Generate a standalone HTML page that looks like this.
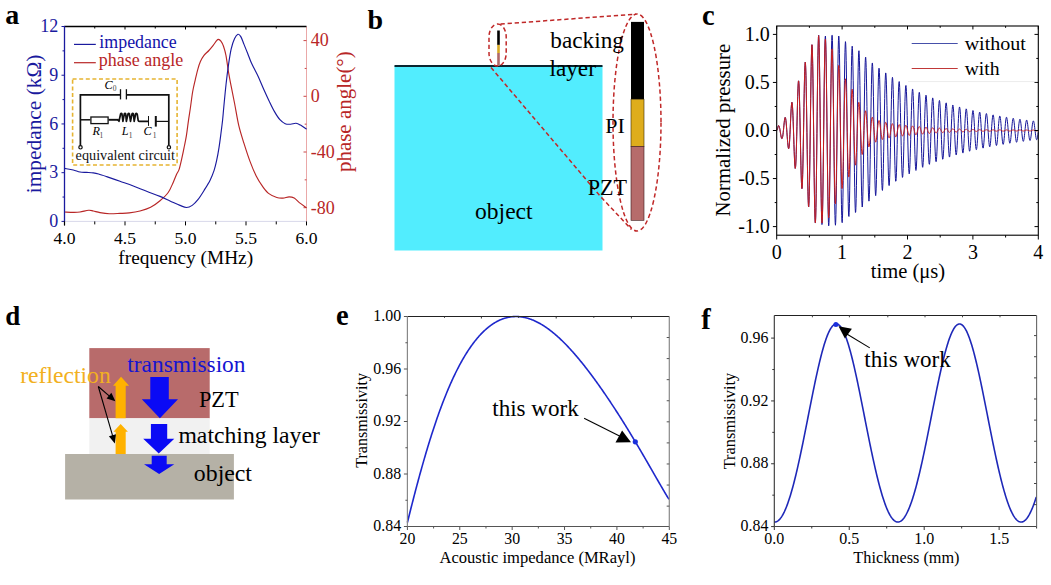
<!DOCTYPE html>
<html><head><meta charset="utf-8"><style>
html,body{margin:0;padding:0;background:#fff;overflow:hidden;}
svg{display:block;font-family:"Liberation Serif", serif;}
</style></head><body>
<svg width="1051" height="585" viewBox="0 0 1051 585">
<rect width="1051" height="585" fill="#fff"/>
<text transform="translate(5.30 23.90)" font-size="28.00" fill="#000" text-anchor="start" font-weight="bold" >a</text>
<line x1="64.50" y1="221.40" x2="306.50" y2="221.40" stroke="#d8d8ea" stroke-width="1" />
<line x1="306.50" y1="26.50" x2="306.50" y2="221.40" stroke="#eaa8a8" stroke-width="1" />
<line x1="61.50" y1="221.40" x2="64.50" y2="221.40" stroke="#1a1a9e" stroke-width="1" />
<line x1="62.50" y1="197.04" x2="64.50" y2="197.04" stroke="#1a1a9e" stroke-width="1" />
<line x1="61.50" y1="172.68" x2="64.50" y2="172.68" stroke="#1a1a9e" stroke-width="1" />
<line x1="62.50" y1="148.31" x2="64.50" y2="148.31" stroke="#1a1a9e" stroke-width="1" />
<line x1="61.50" y1="123.95" x2="64.50" y2="123.95" stroke="#1a1a9e" stroke-width="1" />
<line x1="62.50" y1="99.59" x2="64.50" y2="99.59" stroke="#1a1a9e" stroke-width="1" />
<line x1="61.50" y1="75.22" x2="64.50" y2="75.22" stroke="#1a1a9e" stroke-width="1" />
<line x1="62.50" y1="50.86" x2="64.50" y2="50.86" stroke="#1a1a9e" stroke-width="1" />
<line x1="61.50" y1="26.50" x2="64.50" y2="26.50" stroke="#1a1a9e" stroke-width="1" />
<text transform="translate(58.30 227.00)" font-size="18.00" fill="#1a1a9e" text-anchor="end" >0</text>
<text transform="translate(58.30 178.28)" font-size="18.00" fill="#1a1a9e" text-anchor="end" >3</text>
<text transform="translate(58.30 129.55)" font-size="18.00" fill="#1a1a9e" text-anchor="end" >6</text>
<text transform="translate(58.30 80.82)" font-size="18.00" fill="#1a1a9e" text-anchor="end" >9</text>
<text transform="translate(58.30 32.10)" font-size="18.00" fill="#1a1a9e" text-anchor="end" >12</text>
<line x1="303.50" y1="40.60" x2="306.50" y2="40.60" stroke="#c84848" stroke-width="1" />
<line x1="304.70" y1="68.45" x2="306.50" y2="68.45" stroke="#c84848" stroke-width="1" />
<line x1="303.50" y1="96.30" x2="306.50" y2="96.30" stroke="#c84848" stroke-width="1" />
<line x1="304.70" y1="124.15" x2="306.50" y2="124.15" stroke="#c84848" stroke-width="1" />
<line x1="303.50" y1="152.00" x2="306.50" y2="152.00" stroke="#c84848" stroke-width="1" />
<line x1="304.70" y1="179.85" x2="306.50" y2="179.85" stroke="#c84848" stroke-width="1" />
<line x1="303.50" y1="207.70" x2="306.50" y2="207.70" stroke="#c84848" stroke-width="1" />
<text transform="translate(310.80 46.40)" font-size="18.00" fill="#b82626" text-anchor="start" >40</text>
<text transform="translate(310.80 102.10)" font-size="18.00" fill="#b82626" text-anchor="start" >0</text>
<text transform="translate(310.80 157.80)" font-size="18.00" fill="#b82626" text-anchor="start" >-40</text>
<text transform="translate(310.80 213.50)" font-size="18.00" fill="#b82626" text-anchor="start" >-80</text>
<line x1="64.50" y1="221.40" x2="64.50" y2="225.40" stroke="#000" stroke-width="1" />
<line x1="94.75" y1="26.50" x2="94.75" y2="28.50" stroke="#000" stroke-width="1" />
<line x1="94.75" y1="221.40" x2="94.75" y2="224.40" stroke="#000" stroke-width="1" />
<line x1="125.00" y1="26.50" x2="125.00" y2="29.50" stroke="#000" stroke-width="1" />
<line x1="125.00" y1="221.40" x2="125.00" y2="225.40" stroke="#000" stroke-width="1" />
<line x1="155.25" y1="26.50" x2="155.25" y2="28.50" stroke="#000" stroke-width="1" />
<line x1="155.25" y1="221.40" x2="155.25" y2="224.40" stroke="#000" stroke-width="1" />
<line x1="185.50" y1="26.50" x2="185.50" y2="29.50" stroke="#000" stroke-width="1" />
<line x1="185.50" y1="221.40" x2="185.50" y2="225.40" stroke="#000" stroke-width="1" />
<line x1="215.75" y1="26.50" x2="215.75" y2="28.50" stroke="#000" stroke-width="1" />
<line x1="215.75" y1="221.40" x2="215.75" y2="224.40" stroke="#000" stroke-width="1" />
<line x1="246.00" y1="26.50" x2="246.00" y2="29.50" stroke="#000" stroke-width="1" />
<line x1="246.00" y1="221.40" x2="246.00" y2="225.40" stroke="#000" stroke-width="1" />
<line x1="276.25" y1="26.50" x2="276.25" y2="28.50" stroke="#000" stroke-width="1" />
<line x1="276.25" y1="221.40" x2="276.25" y2="224.40" stroke="#000" stroke-width="1" />
<line x1="306.50" y1="221.40" x2="306.50" y2="225.40" stroke="#000" stroke-width="1" />
<text transform="translate(64.50 243.60)" font-size="17.60" fill="#000" text-anchor="middle" >4.0</text>
<text transform="translate(125.00 243.60)" font-size="17.60" fill="#000" text-anchor="middle" >4.5</text>
<text transform="translate(185.50 243.60)" font-size="17.60" fill="#000" text-anchor="middle" >5.0</text>
<text transform="translate(246.00 243.60)" font-size="17.60" fill="#000" text-anchor="middle" >5.5</text>
<text transform="translate(306.50 243.60)" font-size="17.60" fill="#000" text-anchor="middle" >6.0</text>
<text transform="translate(118.35 263.50)" font-size="19.35" fill="#000" text-anchor="start" >frequency (MHz)</text>
<text transform="translate(40.60 193.20) rotate(-90)" font-size="21.37" fill="#1a1a9e" text-anchor="start" >impedance (k&#937;)</text>
<text transform="translate(351.00 172.09) rotate(-90)" font-size="20.99" fill="#b82626" text-anchor="start" >phase angle(&#176;)</text>
<path d="M64.60,212.00 C66.05,212.05 70.73,212.30 73.30,212.30 C75.87,212.30 77.45,212.33 80.00,212.00 C82.55,211.67 86.38,210.47 88.60,210.30 C90.82,210.13 91.40,210.62 93.30,211.00 C95.20,211.38 97.33,212.15 100.00,212.60 C102.67,213.05 105.97,213.57 109.30,213.70 C112.63,213.83 116.67,213.53 120.00,213.40 C123.33,213.27 125.97,213.30 129.30,212.90 C132.63,212.50 136.45,211.93 140.00,211.00 C143.55,210.07 147.27,209.02 150.60,207.30 C153.93,205.58 157.07,203.17 160.00,200.70 C162.93,198.23 165.98,195.58 168.20,192.50 C170.42,189.42 171.92,185.20 173.30,182.20 C174.68,179.20 175.52,176.68 176.50,174.50 C177.48,172.32 178.23,172.15 179.20,169.10 C180.17,166.05 181.43,160.05 182.30,156.20 C183.17,152.35 183.72,149.42 184.40,146.00 C185.08,142.58 185.72,139.98 186.40,135.70 C187.08,131.42 187.85,124.83 188.50,120.30 C189.15,115.77 189.60,113.30 190.30,108.50 C191.00,103.70 191.87,96.32 192.70,91.50 C193.53,86.68 194.45,83.30 195.30,79.60 C196.15,75.90 196.95,72.30 197.80,69.30 C198.65,66.30 199.40,63.88 200.40,61.60 C201.40,59.32 202.38,57.45 203.80,55.60 C205.22,53.75 207.33,52.20 208.90,50.50 C210.47,48.80 211.92,47.05 213.20,45.40 C214.48,43.75 215.75,41.60 216.60,40.60 C217.45,39.60 217.58,39.32 218.30,39.40 C219.02,39.48 220.03,39.97 220.90,41.10 C221.77,42.23 222.65,43.78 223.50,46.20 C224.35,48.62 225.15,51.18 226.00,55.60 C226.85,60.02 227.73,67.57 228.60,72.70 C229.47,77.83 230.20,81.27 231.20,86.40 C232.20,91.53 233.33,96.95 234.60,103.50 C235.87,110.05 237.25,119.10 238.80,125.70 C240.35,132.30 242.02,137.12 243.90,143.10 C245.78,149.08 248.05,156.12 250.10,161.60 C252.15,167.08 254.15,171.90 256.20,176.00 C258.25,180.10 260.35,183.30 262.40,186.20 C264.45,189.10 266.10,191.52 268.50,193.40 C270.90,195.28 274.40,196.72 276.80,197.50 C279.20,198.28 280.85,198.20 282.90,198.10 C284.95,198.00 287.22,196.90 289.10,196.90 C290.98,196.90 292.50,197.15 294.20,198.10 C295.90,199.05 297.25,200.98 299.30,202.60 C301.35,204.22 305.30,206.93 306.50,207.80" fill="none" stroke="#b82626" stroke-width="1.15"/>
<path d="M64.60,168.40 C66.05,168.67 70.73,169.40 73.30,170.00 C75.87,170.60 77.78,171.60 80.00,172.00 C82.22,172.40 84.38,172.25 86.60,172.40 C88.82,172.55 91.30,172.63 93.30,172.90 C95.30,173.17 96.38,173.38 98.60,174.00 C100.82,174.62 103.03,175.38 106.60,176.60 C110.17,177.82 115.55,179.73 120.00,181.30 C124.45,182.87 128.87,184.33 133.30,186.00 C137.73,187.67 142.15,189.57 146.60,191.30 C151.05,193.03 156.10,194.80 160.00,196.40 C163.90,198.00 166.67,199.40 170.00,200.90 C173.33,202.40 177.25,204.30 180.00,205.40 C182.75,206.50 184.47,207.50 186.50,207.50 C188.53,207.50 190.30,206.70 192.20,205.40 C194.10,204.10 195.87,202.28 197.90,199.70 C199.93,197.12 202.37,193.15 204.40,189.90 C206.43,186.65 208.48,183.45 210.10,180.20 C211.72,176.95 213.02,173.65 214.10,170.40 C215.18,167.15 215.78,164.50 216.60,160.70 C217.42,156.90 218.27,152.22 219.00,147.60 C219.73,142.98 220.40,137.60 221.00,133.00 C221.60,128.40 222.13,124.33 222.60,120.00 C223.07,115.67 223.23,112.88 223.80,107.00 C224.37,101.12 225.20,91.83 226.00,84.70 C226.80,77.57 227.73,70.18 228.60,64.20 C229.47,58.22 230.20,53.08 231.20,48.80 C232.20,44.52 233.47,40.92 234.60,38.50 C235.73,36.08 236.97,34.62 238.00,34.30 C239.03,33.98 239.80,34.92 240.80,36.60 C241.80,38.28 242.87,41.62 244.00,44.40 C245.13,47.18 246.42,50.32 247.60,53.30 C248.78,56.28 249.92,59.60 251.10,62.30 C252.28,65.00 253.50,67.10 254.70,69.50 C255.90,71.90 256.80,73.42 258.30,76.70 C259.80,79.98 261.90,85.17 263.70,89.20 C265.50,93.23 267.30,97.17 269.10,100.90 C270.90,104.63 272.70,108.47 274.50,111.60 C276.30,114.73 278.12,117.68 279.90,119.70 C281.68,121.72 283.42,122.95 285.20,123.70 C286.98,124.45 288.80,124.27 290.60,124.20 C292.40,124.13 294.35,123.15 296.00,123.30 C297.65,123.45 298.75,124.12 300.50,125.10 C302.25,126.08 305.50,128.52 306.50,129.20" fill="none" stroke="#1a1a9e" stroke-width="1.15"/>
<line x1="64.50" y1="26.50" x2="306.50" y2="26.50" stroke="#000" stroke-width="1.3" />
<line x1="64.50" y1="25.90" x2="64.50" y2="221.40" stroke="#1a1a9e" stroke-width="1.3" />
<line x1="64.50" y1="221.40" x2="64.50" y2="225.40" stroke="#000" stroke-width="1.2" />
<line x1="74.00" y1="44.40" x2="95.80" y2="44.40" stroke="#1a1a9e" stroke-width="1.2" />
<text transform="translate(99.37 47.60)" font-size="17.87" fill="#1212aa" text-anchor="start" >impedance</text>
<line x1="74.00" y1="62.70" x2="95.80" y2="62.70" stroke="#b82626" stroke-width="1.2" />
<text transform="translate(98.76 66.30)" font-size="17.99" fill="#b82626" text-anchor="start" >phase angle</text>
<rect x="72.6" y="79.0" width="104.5" height="86.0" fill="none" stroke="#e6b432" stroke-width="1.6" stroke-dasharray="4 2.6"/>
<path d="M80.4,146 L80.4,94.9 L120.5,94.9 M126.4,94.9 L168.8,94.9 L168.8,145.5" fill="none" stroke="#111" stroke-width="1.7"/>
<line x1="120.50" y1="89.20" x2="120.50" y2="99.40" stroke="#111" stroke-width="1.3" />
<line x1="126.40" y1="89.20" x2="126.40" y2="99.40" stroke="#111" stroke-width="1.3" />
<circle cx="80.5" cy="147.3" r="1.7" fill="#fff" stroke="#111" stroke-width="1.2"/>
<circle cx="168.9" cy="147.3" r="1.7" fill="#fff" stroke="#111" stroke-width="1.2"/>
<line x1="80.40" y1="119.80" x2="90.30" y2="119.80" stroke="#111" stroke-width="1.5" />
<rect x="90.9" y="117.0" width="17.2" height="6.6" fill="none" stroke="#111" stroke-width="1.3"/>
<line x1="108.60" y1="119.80" x2="118.60" y2="119.80" stroke="#111" stroke-width="1.9" />
<path d="M117.8,119.8 L119.0,121.3 L120.6,114.0 Q121.3,112.6 122.0,114.0 L122.9,121.3 L124.3,114.0 Q125.0,112.6 125.7,114.0 L126.4,121.3 L128.0,114.0 Q128.7,112.6 129.4,114.0 L130.5,121.3 L132.0,114.0 Q132.7,112.6 133.4,114.0 L134.2,121.3 L135.6,114.0 Q136.4,112.6 137.2,114.2 L138.2,120.6 Q138.6,121.4 139.6,121.4 L148.5,121.4" fill="none" stroke="#111" stroke-width="1.7" stroke-linejoin="round"/>
<line x1="148.50" y1="116.00" x2="148.50" y2="125.90" stroke="#111" stroke-width="1.0" />
<line x1="155.80" y1="116.00" x2="155.80" y2="126.60" stroke="#111" stroke-width="2.0" />
<line x1="155.80" y1="121.40" x2="168.80" y2="121.40" stroke="#111" stroke-width="1.2" />
<text transform="translate(104.60 88.50)" font-size="12.20" fill="#000" text-anchor="start" font-style="italic" >C</text>
<text transform="translate(112.70 91.30)" font-size="7.50" fill="#444" text-anchor="start" >0</text>
<text transform="translate(92.40 135.40)" font-size="12.20" fill="#000" text-anchor="start" font-style="italic" >R</text>
<text transform="translate(99.40 138.40)" font-size="7.50" fill="#444" text-anchor="start" >1</text>
<text transform="translate(121.70 135.40)" font-size="12.20" fill="#000" text-anchor="start" font-style="italic" >L</text>
<text transform="translate(128.70 138.40)" font-size="7.50" fill="#444" text-anchor="start" >1</text>
<text transform="translate(143.40 135.40)" font-size="12.20" fill="#000" text-anchor="start" font-style="italic" >C</text>
<text transform="translate(152.70 138.40)" font-size="7.50" fill="#444" text-anchor="start" >1</text>
<text transform="translate(75.59 159.90)" font-size="14.25" fill="#111" text-anchor="start" >equivalent circuit</text>
<text transform="translate(367.40 28.60)" font-size="28.00" fill="#000" text-anchor="start" font-weight="bold" >b</text>
<rect x="394.50" y="66.00" width="208.00" height="184.50" fill="#52edfe" />
<line x1="394.50" y1="66.00" x2="602.50" y2="66.00" stroke="#0a2630" stroke-width="1.8" />
<rect x="497.20" y="30.50" width="2.60" height="14.40" fill="#000" />
<rect x="497.20" y="44.90" width="2.60" height="8.10" fill="#d9aa25" />
<rect x="497.20" y="53.00" width="2.60" height="13.00" fill="#b06868" />
<rect x="631.00" y="21.90" width="13.00" height="77.30" fill="#000" />
<rect x="631.00" y="99.20" width="13.00" height="47.20" fill="#dead1c" stroke="#3a2a00" stroke-width="0.6"/>
<rect x="631.00" y="146.40" width="13.00" height="73.90" fill="#b66c6b" stroke="#3a1a1a" stroke-width="0.6"/>
<rect x="489.0" y="24.0" width="17.2" height="42.0" rx="8.6" ry="13" fill="none" stroke="#c02828" stroke-width="1.5" stroke-dasharray="4.3 2.8"/>
<ellipse cx="637" cy="122.5" rx="24" ry="108.5" fill="none" stroke="#c02828" stroke-width="1.5" stroke-dasharray="4.3 2.8"/>
<line x1="500.50" y1="24.00" x2="636.00" y2="14.20" stroke="#c02828" stroke-width="1.5" stroke-dasharray="4.3 2.8"/>
<path d="M491,67.5 L600.5,196.5 L631.5,229.5" fill="none" stroke="#c02828" stroke-width="1.5" stroke-dasharray="4.3 2.8"/>
<text transform="translate(550.35 48.00)" font-size="23.23" fill="#000" text-anchor="start" >backing</text>
<text transform="translate(549.54 75.60)" font-size="23.20" fill="#000" text-anchor="start" >layer</text>
<text transform="translate(605.36 133.00)" font-size="22.00" fill="#000" text-anchor="start" >PI</text>
<text transform="translate(587.71 195.40)" font-size="22.11" fill="#000" text-anchor="start" >PZT</text>
<text transform="translate(475.05 219.00)" font-size="23.55" fill="#000" text-anchor="start" >object</text>
<text transform="translate(702.00 24.60)" font-size="28.50" fill="#000" text-anchor="start" font-weight="bold" >c</text>
<path d="M776.70,130.50 L776.95,130.35 L777.20,129.89 L777.45,129.17 L777.70,128.26 L777.95,127.28 L778.20,126.33 L778.45,125.65 L778.70,125.61 L778.95,125.86 L779.20,126.42 L779.45,127.28 L779.70,128.40 L779.95,129.75 L780.20,131.25 L780.45,132.82 L780.70,134.36 L780.95,135.79 L781.20,137.01 L781.45,137.92 L781.70,138.47 L781.95,138.61 L782.20,138.41 L782.45,137.69 L782.70,136.48 L782.95,134.80 L783.20,132.71 L783.45,130.33 L783.70,127.77 L783.95,125.18 L784.20,122.71 L784.45,120.54 L784.70,118.80 L784.95,117.71 L785.20,117.34 L785.45,117.71 L785.70,118.81 L785.95,120.61 L786.20,123.04 L786.45,125.99 L786.70,129.29 L786.95,132.78 L787.20,136.27 L787.45,139.56 L787.70,142.45 L787.95,145.04 L788.20,147.14 L788.45,148.43 L788.70,148.74 L788.95,147.98 L789.20,146.11 L789.45,143.16 L789.70,139.25 L789.95,134.53 L790.20,129.25 L790.45,123.68 L790.70,118.15 L790.95,112.99 L791.20,108.52 L791.45,105.06 L791.70,102.94 L791.95,102.30 L792.20,103.24 L792.45,105.77 L792.70,109.83 L792.95,115.24 L793.20,121.76 L793.45,129.06 L793.70,136.74 L793.95,144.40 L794.20,151.58 L794.45,157.86 L794.70,162.95 L794.95,166.62 L795.20,168.41 L795.45,168.12 L795.70,165.66 L795.95,161.07 L796.20,154.51 L796.45,146.26 L796.70,136.74 L796.95,126.42 L797.20,115.87 L797.45,105.68 L797.70,96.46 L797.95,88.86 L798.20,83.66 L798.45,80.94 L798.70,80.90 L798.95,83.61 L799.20,88.97 L799.45,96.74 L799.70,106.54 L799.95,117.87 L800.20,130.12 L800.45,142.65 L800.70,154.75 L800.95,165.75 L801.20,175.12 L801.45,182.41 L801.70,187.01 L801.95,188.60 L802.20,187.00 L802.45,182.21 L802.70,174.39 L802.95,163.91 L803.20,151.28 L803.45,137.15 L803.70,122.27 L803.95,107.45 L804.20,93.52 L804.45,81.29 L804.70,71.69 L804.95,65.21 L805.20,62.23 L805.45,62.96 L805.70,67.43 L805.95,75.44 L806.20,86.62 L806.45,100.38 L806.70,116.02 L806.95,132.70 L807.20,149.50 L807.45,165.52 L807.70,179.85 L807.95,191.77 L808.20,200.58 L808.45,205.69 L808.70,206.75 L808.95,203.61 L809.20,196.38 L809.45,185.37 L809.70,171.12 L809.95,154.37 L810.20,135.99 L810.45,116.98 L810.70,98.37 L810.95,81.21 L811.20,66.48 L811.45,55.09 L811.70,47.68 L811.95,44.72 L812.20,46.44 L812.45,52.82 L812.70,63.56 L812.95,78.15 L813.20,95.83 L813.45,115.68 L813.70,136.62 L813.95,157.53 L814.20,177.25 L814.45,194.51 L814.70,208.30 L814.95,217.91 L815.20,222.79 L815.45,222.65 L815.70,217.46 L815.95,207.49 L816.20,193.25 L816.45,175.49 L816.70,155.17 L816.95,133.38 L817.20,111.31 L817.45,90.17 L817.70,71.12 L817.95,55.26 L818.20,43.73 L818.45,36.95 L818.70,35.28 L818.95,38.80 L819.20,47.31 L819.45,60.34 L819.70,77.17 L819.95,96.86 L820.20,118.34 L820.45,140.44 L820.70,161.95 L820.95,181.70 L821.20,198.62 L821.45,211.81 L821.70,220.65 L821.95,224.58 L822.20,223.38 L822.45,217.11 L822.70,206.11 L822.95,190.97 L823.20,172.53 L823.45,151.77 L823.70,129.84 L823.95,107.92 L824.20,87.22 L824.45,68.87 L824.70,53.87 L824.95,43.03 L825.20,36.97 L825.45,36.00 L825.70,40.19 L825.95,49.31 L826.20,62.86 L826.45,80.12 L826.70,100.15 L826.95,121.84 L827.20,144.02 L827.45,165.49 L827.70,185.05 L827.95,201.66 L828.20,214.42 L828.45,222.63 L828.70,225.81 L828.95,223.80 L829.20,216.69 L829.45,204.86 L829.70,188.96 L829.95,169.84 L830.20,148.55 L830.45,126.24 L830.70,104.13 L830.95,83.42 L831.20,65.26 L831.45,50.66 L831.70,40.53 L831.95,35.33 L832.20,35.32 L832.45,40.51 L832.70,50.58 L832.95,64.99 L833.20,82.94 L833.45,103.44 L833.70,125.38 L833.95,147.55 L834.20,168.74 L834.45,187.80 L834.70,203.70 L834.95,215.58 L835.20,222.91 L835.45,225.22 L835.70,222.36 L835.95,214.49 L836.20,202.03 L836.45,185.65 L836.70,166.26 L836.95,144.89 L837.20,122.73 L837.45,100.97 L837.70,80.80 L837.95,63.33 L838.20,49.51 L838.45,40.30 L838.70,36.03 L838.95,36.92 L839.20,42.91 L839.45,53.64 L839.70,68.52 L839.95,86.72 L840.20,107.25 L840.45,128.97 L840.70,150.69 L840.95,171.24 L841.20,189.49 L841.45,204.47 L841.70,215.36 L841.95,221.53 L842.20,222.68 L842.45,218.80 L842.70,210.14 L842.95,197.20 L843.20,180.71 L843.45,161.58 L843.70,140.88 L843.95,119.73 L844.20,99.30 L844.45,80.69 L844.70,64.89 L844.95,52.75 L845.20,44.85 L845.45,41.64 L845.70,43.29 L845.95,49.67 L846.20,60.43 L846.45,74.96 L846.70,92.45 L846.95,111.93 L847.20,132.35 L847.45,152.57 L847.70,171.50 L847.95,188.13 L848.20,201.54 L848.45,211.02 L848.70,216.08 L848.95,216.49 L849.20,212.21 L849.45,203.50 L849.70,190.85 L849.95,174.96 L850.20,156.70 L850.45,137.09 L850.70,117.19 L850.95,98.09 L851.20,80.83 L851.45,66.34 L851.70,55.39 L851.95,48.56 L852.20,46.21 L852.45,48.46 L852.70,55.17 L852.95,65.96 L853.20,80.24 L853.45,97.20 L853.70,115.92 L853.95,135.37 L854.20,154.50 L854.45,172.25 L854.70,187.67 L854.95,199.93 L855.20,208.37 L855.45,212.49 L855.70,212.13 L855.95,207.32 L856.20,198.36 L856.45,185.74 L856.70,170.17 L856.95,152.51 L857.20,133.73 L857.45,114.86 L857.70,96.92 L857.95,80.90 L858.20,67.64 L858.45,57.87 L858.70,52.14 L858.95,50.73 L859.20,53.65 L859.45,60.75 L859.70,71.59 L859.95,85.57 L860.20,101.91 L860.45,119.71 L860.70,137.99 L860.95,155.75 L861.20,172.02 L861.45,185.95 L861.70,196.77 L861.95,203.92 L862.20,207.03 L862.45,205.96 L862.70,200.80 L862.95,191.84 L863.20,179.60 L863.45,164.76 L863.70,148.15 L863.95,130.68 L864.20,113.30 L864.45,96.97 L864.70,82.56 L864.95,70.84 L865.20,62.44 L865.45,57.79 L865.70,57.13 L865.95,60.46 L866.20,67.58 L866.45,78.08 L866.70,91.37 L866.95,106.71 L867.20,123.24 L867.45,140.08 L867.70,156.29 L867.95,171.00 L868.20,183.41 L868.45,192.88 L868.70,198.89 L868.95,201.15 L869.20,199.55 L869.45,194.20 L869.70,185.42 L869.95,173.71 L870.20,159.72 L870.45,144.22 L870.70,128.07 L870.95,112.15 L871.20,97.32 L871.45,84.39 L871.70,74.05 L871.95,66.84 L872.20,63.13 L872.45,63.11 L872.70,66.76 L872.95,73.85 L873.20,83.98 L873.45,96.58 L873.70,110.95 L873.95,126.30 L874.20,141.78 L874.45,156.55 L874.70,169.82 L874.95,180.87 L875.20,189.11 L875.45,194.11 L875.70,195.63 L875.95,193.59 L876.20,188.13 L876.45,179.57 L876.70,168.39 L876.95,155.22 L877.20,140.79 L877.45,125.88 L877.70,111.31 L877.95,97.88 L878.20,86.30 L878.45,77.19 L878.70,71.04 L878.95,68.17 L879.20,68.70 L879.45,72.59 L879.70,79.60 L879.95,89.34 L880.20,101.26 L880.45,114.70 L880.70,128.92 L880.95,143.14 L881.20,156.58 L881.45,168.53 L881.70,178.33 L881.95,185.47 L882.20,189.58 L882.45,190.45 L882.70,188.05 L882.95,182.54 L883.20,174.23 L883.45,163.59 L883.70,151.22 L883.95,137.79 L884.20,124.05 L884.45,110.74 L884.70,98.59 L884.95,88.25 L885.20,80.26 L885.45,75.06 L885.70,72.91 L885.95,73.90 L886.20,77.96 L886.45,84.86 L886.70,94.20 L886.95,105.46 L887.20,118.01 L887.45,131.16 L887.70,144.20 L887.95,156.41 L888.20,167.15 L888.45,175.82 L888.70,181.97 L888.95,185.29 L889.20,185.61 L889.45,182.93 L889.70,177.41 L889.95,169.37 L890.20,159.27 L890.45,147.67 L890.70,135.20 L890.95,122.55 L891.20,110.41 L891.45,99.43 L891.70,90.22 L891.95,83.24 L892.20,78.89 L892.45,77.36 L892.70,78.74 L892.95,82.92 L893.20,89.67 L893.45,98.59 L893.70,109.20 L893.95,120.90 L894.20,133.06 L894.45,145.00 L894.70,156.08 L894.95,165.70 L895.20,173.35 L895.45,178.62 L895.70,181.24 L895.95,181.09 L896.20,178.18 L896.45,172.70 L896.70,164.96 L896.95,155.39 L897.20,144.52 L897.45,132.96 L897.70,121.33 L897.95,110.27 L898.20,100.38 L898.45,92.19 L898.70,86.13 L898.95,82.52 L899.20,81.54 L899.45,83.23 L899.70,87.49 L899.95,94.05 L900.20,102.56 L900.45,112.54 L900.70,123.43 L900.95,134.65 L901.20,145.57 L901.45,155.60 L901.70,164.21 L901.95,170.93 L902.20,175.41 L902.45,177.42 L902.70,176.87 L902.95,173.80 L903.20,168.39 L903.45,160.95 L903.70,151.91 L903.95,141.75 L904.20,131.04 L904.45,120.37 L904.70,110.31 L904.95,101.41 L905.20,94.15 L905.45,88.91 L905.70,85.96 L905.95,85.46 L906.20,87.40 L906.45,91.68 L906.70,98.05 L906.95,106.14 L907.20,115.51 L907.45,125.64 L907.70,135.97 L907.95,145.94 L908.20,155.01 L908.45,162.69 L908.70,168.57 L908.95,172.35 L909.20,173.83 L909.45,172.94 L909.70,169.75 L909.95,164.45 L910.20,157.33 L910.45,148.79 L910.70,139.31 L910.95,129.41 L911.20,119.62 L911.45,110.49 L911.70,102.50 L911.95,96.09 L912.20,91.58 L912.45,89.22 L912.70,89.12 L912.95,91.27 L913.20,95.54 L913.45,101.68 L913.70,109.36 L913.95,118.14 L914.20,127.54 L914.45,137.04 L914.70,146.14 L914.95,154.32 L915.20,161.16 L915.45,166.29 L915.70,169.44 L915.95,170.46 L916.20,169.29 L916.45,166.03 L916.70,160.85 L916.95,154.05 L917.20,146.01 L917.45,137.17 L917.70,128.03 L917.95,119.07 L918.20,110.80 L918.45,103.64 L918.70,97.99 L918.95,94.14 L919.20,92.29 L919.45,92.53 L919.70,94.84 L919.95,99.07 L920.20,104.98 L920.45,112.25 L920.70,120.47 L920.95,129.18 L921.20,137.91 L921.45,146.19 L921.70,153.56 L921.95,159.63 L922.20,164.08 L922.45,166.68 L922.70,167.30 L922.95,165.91 L923.20,162.60 L923.45,157.56 L923.70,151.09 L923.95,143.53 L924.20,135.31 L924.45,126.88 L924.70,118.69 L924.95,111.20 L925.20,104.81 L925.45,99.84 L925.70,96.58 L925.95,95.18 L926.20,95.71 L926.45,98.14 L926.70,102.30 L926.95,107.98 L927.20,114.84 L927.45,122.52 L927.70,130.58 L927.95,138.59 L928.20,146.11 L928.45,152.74 L928.70,158.12 L928.95,161.96 L929.20,164.07 L929.45,164.34 L929.70,162.76 L929.95,159.45 L930.20,154.57 L930.45,148.42 L930.70,141.33 L930.95,133.69 L931.20,125.93 L931.45,118.46 L931.70,111.69 L931.95,105.99 L932.20,101.65 L932.45,98.91 L932.70,97.90 L932.95,98.68 L933.20,101.18 L933.45,105.26 L933.70,110.68 L933.95,117.16 L934.20,124.32 L934.45,131.77 L934.70,139.11 L934.95,145.93 L935.20,151.88 L935.45,156.63 L935.70,159.92 L935.95,161.60 L936.20,161.57 L936.45,159.86 L936.70,156.55 L936.95,151.85 L937.20,146.02 L937.45,139.38 L937.70,132.30 L937.95,125.16 L938.20,118.35 L938.45,112.25 L938.70,107.17 L938.95,103.40 L939.20,101.12 L939.45,100.46 L939.70,101.43 L939.95,103.98 L940.20,107.95 L940.45,113.13 L940.70,119.22 L940.95,125.89 L941.20,132.77 L941.45,139.48 L941.70,145.67 L941.95,150.99 L942.20,155.16 L942.45,157.97 L942.70,159.27 L942.95,158.99 L943.20,157.17 L943.45,153.90 L943.70,149.39 L943.95,143.87 L944.20,137.66 L944.45,131.10 L944.70,124.54 L944.95,118.35 L945.20,112.86 L945.45,108.36 L945.70,105.09 L945.95,103.22 L946.20,102.85 L946.45,103.98 L946.70,106.56 L946.95,110.41 L947.20,115.34 L947.45,121.06 L947.70,127.26 L947.95,133.60 L948.20,139.73 L948.45,145.33 L948.70,150.08 L948.95,153.74 L949.20,156.11 L949.45,157.08 L949.70,156.59 L949.95,154.69 L950.20,151.48 L950.45,147.15 L950.70,141.94 L950.95,136.14 L951.20,130.07 L951.45,124.06 L951.70,118.44 L951.95,113.50 L952.20,109.52 L952.45,106.71 L952.70,105.21 L952.95,105.09 L953.20,106.35 L953.45,108.92 L953.70,112.65 L953.95,117.33 L954.20,122.69 L954.45,128.45 L954.70,134.28 L954.95,139.88 L955.20,144.93 L955.45,149.16 L955.70,152.35 L955.95,154.34 L956.20,155.02 L956.45,154.35 L956.70,152.40 L956.95,149.26 L957.20,145.13 L957.45,140.22 L957.70,134.82 L957.95,129.21 L958.20,123.70 L958.45,118.60 L958.70,114.18 L958.95,110.67 L959.20,108.26 L959.45,107.08 L959.70,107.18 L959.95,108.54 L960.20,111.09 L960.45,114.68 L960.70,119.11 L960.95,124.14 L961.20,129.47 L961.45,134.84 L961.70,139.93 L961.95,144.48 L962.20,148.24 L962.45,151.02 L962.70,152.66 L962.95,153.08 L963.20,152.28 L963.45,150.29 L963.70,147.24 L963.95,143.30 L964.20,138.69 L964.45,133.66 L964.70,128.48 L964.95,123.45 L965.20,118.83 L965.45,114.88 L965.70,111.80 L965.95,109.75 L966.20,108.85 L966.45,109.12 L966.70,110.56 L966.95,113.08 L967.20,116.53 L967.45,120.71 L967.70,125.41 L967.95,130.35 L968.20,135.27 L968.45,139.90 L968.70,144.00 L968.95,147.33 L969.20,149.73 L969.45,151.06 L969.70,151.27 L969.95,150.35 L970.20,148.36 L970.45,145.40 L970.70,141.66 L970.95,137.33 L971.20,132.65 L971.45,127.88 L971.70,123.29 L971.95,119.12 L972.20,115.59 L972.45,112.89 L972.70,111.17 L972.95,110.51 L973.20,110.94 L973.45,112.43 L973.70,114.90 L973.95,118.20 L974.20,122.15 L974.45,126.53 L974.70,131.10 L974.95,135.61 L975.20,139.81 L975.45,143.48 L975.70,146.43 L975.95,148.49 L976.20,149.56 L976.45,149.58 L976.70,148.57 L976.95,146.58 L977.20,143.73 L977.45,140.18 L977.70,136.12 L977.95,131.78 L978.20,127.39 L978.45,123.21 L978.70,119.44 L978.95,116.30 L979.20,113.95 L979.45,112.51 L979.70,112.07 L979.95,112.62 L980.20,114.15 L980.45,116.56 L980.70,119.71 L980.95,123.42 L981.20,127.51 L981.45,131.72 L981.70,135.85 L981.95,139.66 L982.20,142.95 L982.45,145.54 L982.70,147.30 L982.95,148.14 L983.20,148.00 L983.45,146.92 L983.70,144.95 L983.95,142.21 L984.20,138.85 L984.45,135.05 L984.70,131.03 L984.95,127.00 L985.20,123.19 L985.45,119.80 L985.70,117.01 L985.95,114.97 L986.20,113.79 L986.45,113.53 L986.70,114.19 L986.95,115.73 L987.20,118.07 L987.45,121.07 L987.70,124.56 L987.95,128.36 L988.20,132.25 L988.45,136.02 L988.70,139.47 L988.95,142.41 L989.20,144.68 L989.45,146.17 L989.70,146.80 L989.95,146.53 L990.20,145.40 L990.45,143.46 L990.70,140.83 L990.95,137.66 L991.20,134.11 L991.45,130.39 L991.70,126.69 L991.95,123.23 L992.20,120.18 L992.45,117.72 L992.70,115.96 L992.95,115.00 L993.20,114.90 L993.45,115.64 L993.70,117.18 L993.95,119.45 L994.20,122.29 L994.45,125.57 L994.70,129.10 L994.95,132.68 L995.20,136.12 L995.45,139.24 L995.70,141.86 L995.95,143.84 L996.20,145.09 L996.45,145.54 L996.70,145.17 L996.95,144.00 L997.20,142.10 L997.45,139.59 L997.70,136.59 L997.95,133.28 L998.20,129.85 L998.45,126.46 L998.70,123.32 L998.95,120.59 L999.20,118.41 L999.45,116.90 L999.70,116.15 L999.95,116.17 L1000.20,116.98 L1000.45,118.52 L1000.70,120.70 L1000.95,123.40 L1001.20,126.47 L1001.45,129.74 L1001.70,133.03 L1001.95,136.17 L1002.20,138.97 L1002.45,141.30 L1002.70,143.03 L1002.95,144.07 L1003.20,144.36 L1003.45,143.89 L1003.70,142.70 L1003.95,140.86 L1004.20,138.46 L1004.45,135.64 L1004.70,132.56 L1004.95,129.39 L1005.20,126.30 L1005.45,123.45 L1005.70,121.00 L1005.95,119.09 L1006.20,117.81 L1006.45,117.22 L1006.70,117.37 L1006.95,118.22 L1007.20,119.74 L1007.45,121.83 L1007.70,124.39 L1007.95,127.26 L1008.20,130.29 L1008.45,133.31 L1008.70,136.16 L1008.95,138.69 L1009.20,140.75 L1009.45,142.25 L1009.70,143.10 L1009.95,143.25 L1010.20,142.72 L1010.45,141.52 L1010.70,139.73 L1010.95,137.44 L1011.20,134.80 L1011.45,131.94 L1011.70,129.01 L1011.95,126.19 L1012.20,123.61 L1012.45,121.43 L1012.70,119.75 L1012.95,118.67 L1013.20,118.24 L1013.45,118.48 L1013.70,119.37 L1013.95,120.86 L1014.20,122.86 L1014.45,125.27 L1014.70,127.95 L1014.95,130.75 L1015.20,133.52 L1015.45,136.11 L1015.70,138.38 L1015.95,140.21 L1016.20,141.50 L1016.45,142.18 L1016.70,142.22 L1016.95,141.62 L1017.20,140.43 L1017.45,138.70 L1017.70,136.53 L1017.95,134.05 L1018.20,131.39 L1018.45,128.70 L1018.70,126.12 L1018.95,123.80 L1019.20,121.86 L1019.45,120.39 L1019.70,119.49 L1019.95,119.19 L1020.20,119.51 L1020.45,120.42 L1020.70,121.88 L1020.95,123.79 L1021.20,126.06 L1021.45,128.56 L1021.70,131.15 L1021.95,133.68 L1022.20,136.03 L1022.45,138.07 L1022.70,139.67 L1022.95,140.78 L1023.20,141.31 L1023.45,141.25 L1023.70,140.61 L1023.95,139.43 L1024.20,137.76 L1024.45,135.71 L1024.70,133.39 L1024.95,130.92 L1025.20,128.45 L1025.45,126.10 L1025.70,124.01 L1025.95,122.28 L1026.20,121.01 L1026.45,120.27 L1026.70,120.08 L1026.95,120.47 L1027.20,121.39 L1027.45,122.81 L1027.70,124.63 L1027.95,126.77 L1028.20,129.09 L1028.45,131.48 L1028.70,133.80 L1028.95,135.92 L1029.20,137.74 L1029.45,139.15 L1029.70,140.09 L1029.95,140.49 L1030.20,140.35 L1030.45,139.68 L1030.70,138.51 L1030.95,136.91 L1031.20,134.97 L1031.45,132.80 L1031.70,130.52 L1031.95,128.25 L1032.20,126.12 L1032.45,124.24 L1032.70,122.71 L1032.95,121.61 L1033.20,121.01 L1033.45,120.92 L1033.70,121.35 L1033.95,122.28 L1034.20,123.66 L1034.45,125.39 L1034.70,127.39 L1034.95,129.55 L1035.20,131.75 L1035.45,133.87 L1035.70,135.79 L1035.95,137.41 L1036.20,138.64 L1036.45,139.43 L1036.70,139.72 L1036.95,139.52 L1037.20,138.82 L1037.45,137.67 L1037.70,136.14 L1037.95,134.32 L1038.20,132.29" fill="none" stroke="#16169a" stroke-width="1.0"/>
<path d="M776.70,130.50 L776.95,130.35 L777.20,129.89 L777.45,129.17 L777.70,128.26 L777.95,127.28 L778.20,126.33 L778.45,125.65 L778.70,125.61 L778.95,125.86 L779.20,126.42 L779.45,127.28 L779.70,128.40 L779.95,129.75 L780.20,131.25 L780.45,132.82 L780.70,134.36 L780.95,135.79 L781.20,137.01 L781.45,137.92 L781.70,138.47 L781.95,138.61 L782.20,138.41 L782.45,137.69 L782.70,136.48 L782.95,134.80 L783.20,132.71 L783.45,130.33 L783.70,127.77 L783.95,125.18 L784.20,122.71 L784.45,120.54 L784.70,118.80 L784.95,117.71 L785.20,117.34 L785.45,117.71 L785.70,118.81 L785.95,120.61 L786.20,123.04 L786.45,125.99 L786.70,129.29 L786.95,132.78 L787.20,136.27 L787.45,139.56 L787.70,142.45 L787.95,145.04 L788.20,147.14 L788.45,148.43 L788.70,148.74 L788.95,147.98 L789.20,146.11 L789.45,143.16 L789.70,139.25 L789.95,134.53 L790.20,129.25 L790.45,123.68 L790.70,118.15 L790.95,112.99 L791.20,108.52 L791.45,105.06 L791.70,102.94 L791.95,102.30 L792.20,103.24 L792.45,105.77 L792.70,109.83 L792.95,115.24 L793.20,121.76 L793.45,129.06 L793.70,136.74 L793.95,144.40 L794.20,151.58 L794.45,157.86 L794.70,162.95 L794.95,166.62 L795.20,168.41 L795.45,168.12 L795.70,165.66 L795.95,161.07 L796.20,154.51 L796.45,146.26 L796.70,136.74 L796.95,126.42 L797.20,115.87 L797.45,105.68 L797.70,96.46 L797.95,88.86 L798.20,83.66 L798.45,80.94 L798.70,80.90 L798.95,83.61 L799.20,88.97 L799.45,96.74 L799.70,106.54 L799.95,117.87 L800.20,130.12 L800.45,142.65 L800.70,154.75 L800.95,165.75 L801.20,175.12 L801.45,182.41 L801.70,187.01 L801.95,188.60 L802.20,187.00 L802.45,182.21 L802.70,174.39 L802.95,163.91 L803.20,151.28 L803.45,137.15 L803.70,122.27 L803.95,107.45 L804.20,93.52 L804.45,81.29 L804.70,71.69 L804.95,65.21 L805.20,62.23 L805.45,62.96 L805.70,67.43 L805.95,75.44 L806.20,86.62 L806.45,100.38 L806.70,116.02 L806.95,132.70 L807.20,149.50 L807.45,165.52 L807.70,179.85 L807.95,191.77 L808.20,200.58 L808.45,205.69 L808.70,206.75 L808.95,203.61 L809.20,196.38 L809.45,185.37 L809.70,171.12 L809.95,154.37 L810.20,135.99 L810.45,116.98 L810.70,98.37 L810.95,81.21 L811.20,66.48 L811.45,55.09 L811.70,47.68 L811.95,44.72 L812.20,46.44 L812.45,52.82 L812.70,63.56 L812.95,78.15 L813.20,95.83 L813.45,115.68 L813.70,136.62 L813.95,157.53 L814.20,177.25 L814.45,194.51 L814.70,208.30 L814.95,217.91 L815.20,222.79 L815.45,222.65 L815.70,217.46 L815.95,207.49 L816.20,193.25 L816.45,175.49 L816.70,155.17 L816.95,133.38 L817.20,111.31 L817.45,90.17 L817.70,71.12 L817.95,55.28 L818.20,43.84 L818.45,37.17 L818.70,35.61 L818.95,39.22 L819.20,47.78 L819.45,60.81 L819.70,77.58 L819.95,97.16 L820.20,118.47 L820.45,140.33 L820.70,161.57 L820.95,181.02 L821.20,197.64 L821.45,210.56 L821.70,219.23 L821.95,223.06 L822.20,221.85 L822.45,215.65 L822.70,204.80 L822.95,189.91 L823.20,171.77 L823.45,151.38 L823.70,129.85 L823.95,108.36 L824.20,88.07 L824.45,70.10 L824.70,55.53 L824.95,45.28 L825.20,39.73 L825.45,39.16 L825.70,43.56 L825.95,52.66 L826.20,65.92 L826.45,82.60 L826.70,101.75 L826.95,122.33 L827.20,143.20 L827.45,163.22 L827.70,181.31 L827.95,196.51 L828.20,207.99 L828.45,215.18 L828.70,217.71 L828.95,215.47 L829.20,208.64 L829.45,197.61 L829.70,183.01 L829.95,165.68 L830.20,146.56 L830.45,126.73 L830.70,107.25 L830.95,89.19 L831.20,73.53 L831.45,61.13 L831.70,52.85 L831.95,48.90 L832.20,49.44 L832.45,54.37 L832.70,63.36 L832.95,75.84 L833.20,91.09 L833.45,108.24 L833.70,126.32 L833.95,144.33 L834.20,161.29 L834.45,176.31 L834.70,188.59 L834.95,197.52 L835.20,202.66 L835.45,203.80 L835.70,200.94 L835.95,194.32 L836.20,184.35 L836.45,171.64 L836.70,156.92 L836.95,141.03 L837.20,124.86 L837.45,109.30 L837.70,95.17 L837.95,83.22 L838.20,74.06 L838.45,68.01 L838.70,65.45 L838.95,66.45 L839.20,70.92 L839.45,78.55 L839.70,88.87 L839.95,101.28 L840.20,115.08 L840.45,129.49 L840.70,143.71 L840.95,156.99 L841.20,168.60 L841.45,177.95 L841.70,184.57 L841.95,188.14 L842.20,188.53 L842.45,185.76 L842.70,180.04 L842.95,171.74 L843.20,161.35 L843.45,149.48 L843.70,136.80 L843.95,124.01 L844.20,111.81 L844.45,100.85 L844.70,91.71 L844.95,84.82 L845.20,80.43 L845.45,78.82 L845.70,80.04 L845.95,83.98 L846.20,90.39 L846.45,98.87 L846.70,108.95 L846.95,120.04 L847.20,131.53 L847.45,142.79 L847.70,153.22 L847.95,162.24 L848.20,169.40 L848.45,174.34 L848.70,176.83 L848.95,176.76 L849.20,174.18 L849.45,169.28 L849.70,162.35 L849.95,153.81 L850.20,144.15 L850.45,133.91 L850.70,123.66 L850.95,113.96 L851.20,105.32 L851.45,98.19 L851.70,92.95 L851.95,89.94 L852.20,89.21 L852.45,90.73 L852.70,94.36 L852.95,99.87 L853.20,106.90 L853.45,115.04 L853.70,123.81 L853.95,132.71 L854.20,141.27 L854.45,149.02 L854.70,155.56 L854.95,160.57 L855.20,163.81 L855.45,165.16 L855.70,164.60 L855.95,162.20 L856.20,158.15 L856.45,152.73 L856.70,146.26 L856.95,139.13 L857.20,131.75 L857.45,124.53 L857.70,117.87 L857.95,112.10 L858.20,107.51 L858.45,104.33 L858.70,102.53 L858.95,102.26 L859.20,103.53 L859.45,106.23 L859.70,110.18 L859.95,115.14 L860.20,120.81 L860.45,126.88 L860.70,132.99 L860.95,138.82 L861.20,144.05 L861.45,148.42 L861.70,151.70 L861.95,153.76 L862.20,154.49 L862.45,153.91 L862.70,152.08 L862.95,149.13 L863.20,145.24 L863.45,140.67 L863.70,135.68 L863.95,130.55 L864.20,125.57 L864.45,121.00 L864.70,117.08 L864.95,114.01 L865.20,111.93 L865.45,110.85 L865.70,110.86 L865.95,111.93 L866.20,113.98 L866.45,116.87 L866.70,120.43 L866.95,124.44 L867.20,128.67 L867.45,132.89 L867.70,136.86 L867.95,140.38 L868.20,143.27 L868.45,145.38 L868.70,146.63 L868.95,146.96 L869.20,146.40 L869.45,144.99 L869.70,142.83 L869.95,140.08 L870.20,136.89 L870.45,133.46 L870.70,129.98 L870.95,126.65 L871.20,123.63 L871.45,121.09 L871.70,119.15 L871.95,117.89 L872.20,117.26 L872.45,117.33 L872.70,118.12 L872.95,119.57 L873.20,121.58 L873.45,124.04 L873.70,126.80 L873.95,129.71 L874.20,132.61 L874.45,135.34 L874.70,137.75 L874.95,139.72 L875.20,141.16 L875.45,141.99 L875.70,142.18 L875.95,141.73 L876.20,140.68 L876.45,139.10 L876.70,137.09 L876.95,134.77 L877.20,132.26 L877.45,129.71 L877.70,127.27 L877.95,125.05 L878.20,123.17 L878.45,121.74 L878.70,120.81 L878.95,120.43 L879.20,120.60 L879.45,121.31 L879.70,122.50 L879.95,124.09 L880.20,125.97 L880.45,128.06 L880.70,130.26 L880.95,132.44 L881.20,134.49 L881.45,136.30 L881.70,137.77 L881.95,138.82 L882.20,139.41 L882.45,139.51 L882.70,139.12 L882.95,138.27 L883.20,137.00 L883.45,135.40 L883.70,133.56 L883.95,131.57 L884.20,129.56 L884.45,127.62 L884.70,125.86 L884.95,124.39 L885.20,123.26 L885.45,122.55 L885.70,122.27 L885.95,122.45 L886.20,123.06 L886.45,124.06 L886.70,125.40 L886.95,127.00 L887.20,128.76 L887.45,130.59 L887.70,132.39 L887.95,134.06 L888.20,135.50 L888.45,136.66 L888.70,137.46 L888.95,137.87 L889.20,137.88 L889.45,137.48 L889.70,136.71 L889.95,135.62 L890.20,134.28 L890.45,132.75 L890.70,131.11 L890.95,129.46 L891.20,127.88 L891.45,126.46 L891.70,125.27 L891.95,124.38 L892.20,123.83 L892.45,123.65 L892.70,123.84 L892.95,124.39 L893.20,125.27 L893.45,126.42 L893.70,127.78 L893.95,129.28 L894.20,130.82 L894.45,132.34 L894.70,133.73 L894.95,134.93 L895.20,135.88 L895.45,136.53 L895.70,136.84 L895.95,136.81 L896.20,136.43 L896.45,135.73 L896.70,134.76 L896.95,133.57 L897.20,132.22 L897.45,130.80 L897.70,129.38 L897.95,128.03 L898.20,126.84 L898.45,125.86 L898.70,125.14 L898.95,124.72 L899.20,124.62 L899.45,124.84 L899.70,125.37 L899.95,126.16 L900.20,127.18 L900.45,128.37 L900.70,129.66 L900.95,130.99 L901.20,132.28 L901.45,133.46 L901.70,134.48 L901.95,135.26 L902.20,135.78 L902.45,136.01 L902.70,135.94 L902.95,135.57 L903.20,134.93 L903.45,134.06 L903.70,133.00 L903.95,131.81 L904.20,130.56 L904.45,129.32 L904.70,128.16 L904.95,127.13 L905.20,126.30 L905.45,125.70 L905.70,125.36 L905.95,125.31 L906.20,125.55 L906.45,126.05 L906.70,126.78 L906.95,127.71 L907.20,128.79 L907.45,129.95 L907.70,131.12 L907.95,132.25 L908.20,133.28 L908.45,134.14 L908.70,134.80 L908.95,135.22 L909.20,135.38 L909.45,135.27 L909.70,134.90 L909.95,134.30 L910.20,133.50 L910.45,132.54 L910.70,131.48 L910.95,130.38 L911.20,129.30 L911.45,128.29 L911.70,127.41 L911.95,126.71 L912.20,126.22 L912.45,125.98 L912.70,125.97 L912.95,126.22 L913.20,126.69 L913.45,127.37 L913.70,128.21 L913.95,129.16 L914.20,130.18 L914.45,131.20 L914.70,132.18 L914.95,133.05 L915.20,133.77 L915.45,134.31 L915.70,134.64 L915.95,134.73 L916.20,134.60 L916.45,134.24 L916.70,133.69 L916.95,132.97 L917.20,132.12 L917.45,131.20 L917.70,130.24 L917.95,129.32 L918.20,128.46 L918.45,127.73 L918.70,127.16 L918.95,126.78 L919.20,126.60 L919.45,126.64 L919.70,126.88 L919.95,127.32 L920.20,127.93 L920.45,128.67 L920.70,129.50 L920.95,130.37 L921.20,131.24 L921.45,132.05 L921.70,132.78 L921.95,133.37 L922.20,133.79 L922.45,134.04 L922.70,134.08 L922.95,133.93 L923.20,133.60 L923.45,133.11 L923.70,132.47 L923.95,131.74 L924.20,130.96 L924.45,130.16 L924.70,129.39 L924.95,128.69 L925.20,128.09 L925.45,127.64 L925.70,127.35 L925.95,127.23 L926.20,127.30 L926.45,127.53 L926.70,127.93 L926.95,128.45 L927.20,129.08 L927.45,129.78 L927.70,130.51 L927.95,131.22 L928.20,131.89 L928.45,132.46 L928.70,132.93 L928.95,133.25 L929.20,133.42 L929.45,133.43 L929.70,133.28 L929.95,132.98 L930.20,132.56 L930.45,132.03 L930.70,131.42 L930.95,130.77 L931.20,130.11 L931.45,129.48 L931.70,128.91 L931.95,128.44 L932.20,128.08 L932.45,127.85 L932.70,127.77 L932.95,127.84 L933.20,128.06 L933.45,128.40 L933.70,128.86 L933.95,129.40 L934.20,129.99 L934.45,130.60 L934.70,131.21 L934.95,131.76 L935.20,132.25 L935.45,132.63 L935.70,132.89 L935.95,133.02 L936.20,133.01 L936.45,132.87 L936.70,132.59 L936.95,132.21 L937.20,131.74 L937.45,131.21 L937.70,130.64 L937.95,130.08 L938.20,129.54 L938.45,129.06 L938.70,128.67 L938.95,128.38 L939.20,128.21 L939.45,128.16 L939.70,128.24 L939.95,128.45 L940.20,128.76 L940.45,129.17 L940.70,129.64 L940.95,130.15 L941.20,130.67 L941.45,131.18 L941.70,131.65 L941.95,132.04 L942.20,132.35 L942.45,132.55 L942.70,132.64 L942.95,132.61 L943.20,132.47 L943.45,132.22 L943.70,131.89 L943.95,131.48 L944.20,131.02 L944.45,130.54 L944.70,130.07 L944.95,129.63 L945.20,129.24 L945.45,128.92 L945.70,128.70 L945.95,128.57 L946.20,128.55 L946.45,128.64 L946.70,128.83 L946.95,129.10 L947.20,129.45 L947.45,129.85 L947.70,130.28 L947.95,130.71 L948.20,131.13 L948.45,131.50 L948.70,131.82 L948.95,132.05 L949.20,132.20 L949.45,132.26 L949.70,132.22 L949.95,132.08 L950.20,131.87 L950.45,131.59 L950.70,131.25 L950.95,130.87 L951.20,130.47 L951.45,130.08 L951.70,129.72 L951.95,129.40 L952.20,129.15 L952.45,128.97 L952.70,128.88 L952.95,128.87 L953.20,128.95 L953.45,129.12 L953.70,129.36 L953.95,129.66 L954.20,130.00 L954.45,130.37 L954.70,130.74 L954.95,131.09 L955.20,131.41 L955.45,131.67 L955.70,131.87 L955.95,131.99 L956.20,132.03 L956.45,131.99 L956.70,131.86 L956.95,131.66 L957.20,131.41 L957.45,131.10 L957.70,130.77 L957.95,130.42 L958.20,130.08 L958.45,129.77 L958.70,129.50 L958.95,129.29 L959.20,129.15 L959.45,129.08 L959.70,129.09 L959.95,129.18 L960.20,129.33 L960.45,129.55 L960.70,129.82 L960.95,130.12 L961.20,130.44 L961.45,130.76 L961.70,131.06 L961.95,131.32 L962.20,131.54 L962.45,131.70 L962.70,131.79 L962.95,131.81 L963.20,131.76 L963.45,131.65 L963.70,131.47 L963.95,131.24 L964.20,130.97 L964.45,130.68 L964.70,130.39 L964.95,130.10 L965.20,129.84 L965.45,129.62 L965.70,129.45 L965.95,129.34 L966.20,129.29 L966.45,129.31 L966.70,129.40 L966.95,129.54 L967.20,129.73 L967.45,129.96 L967.70,130.22 L967.95,130.49 L968.20,130.76 L968.45,131.01 L968.70,131.22 L968.95,131.40 L969.20,131.52 L969.45,131.59 L969.70,131.60 L969.95,131.54 L970.20,131.43 L970.45,131.28 L970.70,131.08 L970.95,130.85 L971.20,130.61 L971.45,130.37 L971.70,130.13 L971.95,129.92 L972.20,129.75 L972.45,129.62 L972.70,129.53 L972.95,129.51 L973.20,129.53 L973.45,129.61 L973.70,129.74 L973.95,129.90 L974.20,130.10 L974.45,130.31 L974.70,130.53 L974.95,130.74 L975.20,130.94 L975.45,131.11 L975.70,131.25 L975.95,131.34 L976.20,131.38 L976.45,131.38 L976.70,131.33 L976.95,131.23 L977.20,131.10 L977.45,130.93 L977.70,130.75 L977.95,130.56 L978.20,130.36 L978.45,130.18 L978.70,130.02 L978.95,129.89 L979.20,129.79 L979.45,129.74 L979.70,129.72 L979.95,129.75 L980.20,129.82 L980.45,129.92 L980.70,130.05 L980.95,130.20 L981.20,130.37 L981.45,130.55 L981.70,130.73 L981.95,130.89 L982.20,131.03 L982.45,131.14 L982.70,131.21 L982.95,131.25 L983.20,131.24 L983.45,131.20 L983.70,131.11 L983.95,131.00 L984.20,130.85 L984.45,130.69 L984.70,130.52 L984.95,130.35 L985.20,130.19 L985.45,130.04 L985.70,129.92 L985.95,129.84 L986.20,129.78 L986.45,129.77 L986.70,129.80 L986.95,129.87 L987.20,129.97 L987.45,130.09 L987.70,130.24 L987.95,130.41 L988.20,130.58 L988.45,130.74 L988.70,130.89 L988.95,131.01 L989.20,131.11 L989.45,131.18 L989.70,131.21 L989.95,131.19 L990.20,131.15 L990.45,131.06 L990.70,130.95 L990.95,130.81 L991.20,130.66 L991.45,130.50 L991.70,130.33 L991.95,130.18 L992.20,130.05 L992.45,129.94 L992.70,129.87 L992.95,129.82 L993.20,129.82 L993.45,129.85 L993.70,129.92 L993.95,130.02 L994.20,130.14 L994.45,130.28 L994.70,130.44 L994.95,130.60 L995.20,130.75 L995.45,130.88 L995.70,131.00 L995.95,131.09 L996.20,131.14 L996.45,131.16 L996.70,131.15 L996.95,131.10 L997.20,131.01 L997.45,130.90 L997.70,130.77 L997.95,130.62 L998.20,130.47 L998.45,130.32 L998.70,130.18 L998.95,130.06 L999.20,129.96 L999.45,129.90 L999.70,129.86 L999.95,129.86 L1000.20,129.90 L1000.45,129.97 L1000.70,130.06 L1000.95,130.18 L1001.20,130.32 L1001.45,130.47 L1001.70,130.61 L1001.95,130.75 L1002.20,130.88 L1002.45,130.98 L1002.70,131.06 L1002.95,131.11 L1003.20,131.12 L1003.45,131.10 L1003.70,131.05 L1003.95,130.96 L1004.20,130.86 L1004.45,130.73 L1004.70,130.59 L1004.95,130.45 L1005.20,130.31 L1005.45,130.18 L1005.70,130.07 L1005.95,129.99 L1006.20,129.93 L1006.45,129.90 L1006.70,129.91 L1006.95,129.95 L1007.20,130.02 L1007.45,130.11 L1007.70,130.22 L1007.95,130.35 L1008.20,130.49 L1008.45,130.63 L1008.70,130.76 L1008.95,130.87 L1009.20,130.96 L1009.45,131.03 L1009.70,131.07 L1009.95,131.08 L1010.20,131.05 L1010.45,131.00 L1010.70,130.92 L1010.95,130.81 L1011.20,130.69 L1011.45,130.56 L1011.70,130.43 L1011.95,130.30 L1012.20,130.19 L1012.45,130.09 L1012.70,130.01 L1012.95,129.96 L1013.20,129.94 L1013.45,129.96 L1013.70,130.00 L1013.95,130.06 L1014.20,130.15 L1014.45,130.26 L1014.70,130.38 L1014.95,130.51 L1015.20,130.64 L1015.45,130.75 L1015.70,130.86 L1015.95,130.94 L1016.20,131.00 L1016.45,131.03 L1016.70,131.03 L1016.95,131.00 L1017.20,130.95 L1017.45,130.87 L1017.70,130.77 L1017.95,130.66 L1018.20,130.54 L1018.45,130.42 L1018.70,130.30 L1018.95,130.20 L1019.20,130.11 L1019.45,130.04 L1019.70,130.00 L1019.95,129.99 L1020.20,130.00 L1020.45,130.04 L1020.70,130.11 L1020.95,130.20 L1021.20,130.30 L1021.45,130.41 L1021.70,130.53 L1021.95,130.64 L1022.20,130.75 L1022.45,130.84 L1022.70,130.92 L1022.95,130.97 L1023.20,130.99 L1023.45,130.99 L1023.70,130.96 L1023.95,130.90 L1024.20,130.83 L1024.45,130.74 L1024.70,130.63 L1024.95,130.52 L1025.20,130.41 L1025.45,130.30 L1025.70,130.21 L1025.95,130.13 L1026.20,130.07 L1026.45,130.04 L1026.70,130.03 L1026.95,130.05 L1027.20,130.09 L1027.45,130.15 L1027.70,130.24 L1027.95,130.33 L1028.20,130.44 L1028.45,130.54 L1028.70,130.65 L1028.95,130.74 L1029.20,130.82 L1029.45,130.89 L1029.70,130.93 L1029.95,130.95 L1030.20,130.94 L1030.45,130.91 L1030.70,130.86 L1030.95,130.79 L1031.20,130.70 L1031.45,130.60 L1031.70,130.50 L1031.95,130.40 L1032.20,130.30 L1032.45,130.22 L1032.70,130.15 L1032.95,130.10 L1033.20,130.08 L1033.45,130.07 L1033.70,130.09 L1033.95,130.14 L1034.20,130.20 L1034.45,130.27 L1034.70,130.36 L1034.95,130.46 L1035.20,130.56 L1035.45,130.65 L1035.70,130.73 L1035.95,130.80 L1036.20,130.86 L1036.45,130.89 L1036.70,130.91 L1036.95,130.90 L1037.20,130.86 L1037.45,130.81 L1037.70,130.75 L1037.95,130.67 L1038.20,130.58" fill="none" stroke="#c81e1e" stroke-width="1.0"/>
<rect x="776.7" y="26.0" width="261.5999999999999" height="209.2" fill="none" stroke="#000" stroke-width="1.1"/>
<line x1="772.90" y1="34.40" x2="776.70" y2="34.40" stroke="#000" stroke-width="1" />
<line x1="1034.50" y1="34.40" x2="1038.30" y2="34.40" stroke="#000" stroke-width="1" />
<line x1="774.70" y1="58.43" x2="776.70" y2="58.43" stroke="#000" stroke-width="1" />
<line x1="1036.30" y1="58.43" x2="1038.30" y2="58.43" stroke="#000" stroke-width="1" />
<line x1="772.90" y1="82.45" x2="776.70" y2="82.45" stroke="#000" stroke-width="1" />
<line x1="1034.50" y1="82.45" x2="1038.30" y2="82.45" stroke="#000" stroke-width="1" />
<line x1="774.70" y1="106.47" x2="776.70" y2="106.47" stroke="#000" stroke-width="1" />
<line x1="1036.30" y1="106.47" x2="1038.30" y2="106.47" stroke="#000" stroke-width="1" />
<line x1="772.90" y1="130.50" x2="776.70" y2="130.50" stroke="#000" stroke-width="1" />
<line x1="1034.50" y1="130.50" x2="1038.30" y2="130.50" stroke="#000" stroke-width="1" />
<line x1="774.70" y1="154.53" x2="776.70" y2="154.53" stroke="#000" stroke-width="1" />
<line x1="1036.30" y1="154.53" x2="1038.30" y2="154.53" stroke="#000" stroke-width="1" />
<line x1="772.90" y1="178.55" x2="776.70" y2="178.55" stroke="#000" stroke-width="1" />
<line x1="1034.50" y1="178.55" x2="1038.30" y2="178.55" stroke="#000" stroke-width="1" />
<line x1="774.70" y1="202.57" x2="776.70" y2="202.57" stroke="#000" stroke-width="1" />
<line x1="1036.30" y1="202.57" x2="1038.30" y2="202.57" stroke="#000" stroke-width="1" />
<line x1="772.90" y1="226.60" x2="776.70" y2="226.60" stroke="#000" stroke-width="1" />
<line x1="1034.50" y1="226.60" x2="1038.30" y2="226.60" stroke="#000" stroke-width="1" />
<line x1="776.70" y1="235.20" x2="776.70" y2="239.50" stroke="#000" stroke-width="1" />
<line x1="776.70" y1="26.00" x2="776.70" y2="29.44" stroke="#000" stroke-width="1" />
<line x1="809.40" y1="235.20" x2="809.40" y2="237.50" stroke="#000" stroke-width="1" />
<line x1="809.40" y1="26.00" x2="809.40" y2="27.84" stroke="#000" stroke-width="1" />
<line x1="842.10" y1="235.20" x2="842.10" y2="239.50" stroke="#000" stroke-width="1" />
<line x1="842.10" y1="26.00" x2="842.10" y2="29.44" stroke="#000" stroke-width="1" />
<line x1="874.80" y1="235.20" x2="874.80" y2="237.50" stroke="#000" stroke-width="1" />
<line x1="874.80" y1="26.00" x2="874.80" y2="27.84" stroke="#000" stroke-width="1" />
<line x1="907.50" y1="235.20" x2="907.50" y2="239.50" stroke="#000" stroke-width="1" />
<line x1="907.50" y1="26.00" x2="907.50" y2="29.44" stroke="#000" stroke-width="1" />
<line x1="940.20" y1="235.20" x2="940.20" y2="237.50" stroke="#000" stroke-width="1" />
<line x1="940.20" y1="26.00" x2="940.20" y2="27.84" stroke="#000" stroke-width="1" />
<line x1="972.90" y1="235.20" x2="972.90" y2="239.50" stroke="#000" stroke-width="1" />
<line x1="972.90" y1="26.00" x2="972.90" y2="29.44" stroke="#000" stroke-width="1" />
<line x1="1005.60" y1="235.20" x2="1005.60" y2="237.50" stroke="#000" stroke-width="1" />
<line x1="1005.60" y1="26.00" x2="1005.60" y2="27.84" stroke="#000" stroke-width="1" />
<line x1="1038.30" y1="235.20" x2="1038.30" y2="239.50" stroke="#000" stroke-width="1" />
<line x1="1038.30" y1="26.00" x2="1038.30" y2="29.44" stroke="#000" stroke-width="1" />
<text transform="translate(769.80 40.80)" font-size="20.00" fill="#000" text-anchor="end" >1.0</text>
<text transform="translate(769.80 88.85)" font-size="20.00" fill="#000" text-anchor="end" >0.5</text>
<text transform="translate(769.80 136.90)" font-size="20.00" fill="#000" text-anchor="end" >0.0</text>
<text transform="translate(769.80 184.95)" font-size="20.00" fill="#000" text-anchor="end" >-0.5</text>
<text transform="translate(769.80 233.00)" font-size="20.00" fill="#000" text-anchor="end" >-1.0</text>
<text transform="translate(776.70 258.70)" font-size="20.00" fill="#000" text-anchor="middle" >0</text>
<text transform="translate(842.10 258.70)" font-size="20.00" fill="#000" text-anchor="middle" >1</text>
<text transform="translate(907.50 258.70)" font-size="20.00" fill="#000" text-anchor="middle" >2</text>
<text transform="translate(972.90 258.70)" font-size="20.00" fill="#000" text-anchor="middle" >3</text>
<text transform="translate(1038.30 258.70)" font-size="20.00" fill="#000" text-anchor="middle" >4</text>
<text transform="translate(870.85 277.60)" font-size="20.56" fill="#000" text-anchor="start" >time (&#956;s)</text>
<text transform="translate(729.50 216.45) rotate(-90)" font-size="20.80" fill="#000" text-anchor="start" >Normalized pressure</text>
<line x1="911.70" y1="43.50" x2="957.70" y2="43.50" stroke="#4650aa" stroke-width="1.1" />
<text transform="translate(964.63 49.80) scale(1.014 1)" font-size="19.80" fill="#000" text-anchor="start" >without</text>
<line x1="911.70" y1="68.50" x2="957.70" y2="68.50" stroke="#c03838" stroke-width="1.1" />
<text transform="translate(964.63 75.30) scale(0.994 1)" font-size="19.80" fill="#000" text-anchor="start" >with</text>
<line x1="908.00" y1="81.60" x2="1037.00" y2="81.60" stroke="#ececec" stroke-width="1" />
<text transform="translate(5.20 324.60)" font-size="27.00" fill="#000" text-anchor="start" font-weight="bold" >d</text>
<rect x="89.30" y="348.10" width="120.40" height="70.20" fill="#b86b6b" />
<rect x="89.30" y="418.30" width="120.40" height="35.70" fill="#f1f1f1" />
<rect x="65.10" y="454.00" width="168.80" height="45.50" fill="#b5b1a6" />
<path d="M115.6,418.3 L115.6,385.7 L113,385.7 L121.05,376.7 L129.1,385.7 L125.7,385.7 L125.7,418.3 Z" fill="#ffb200"/>
<path d="M115.6,454.0 L115.6,431.7 L113.4,431.7 L120.65,424.1 L127.9,431.7 L125.7,431.7 L125.7,454.0 Z" fill="#ffb200"/>
<path d="M150.3,377.0 L150.3,399.3 L141.8,399.3 L159.9,418.3 L178,399.3 L168.8,399.3 L168.8,377.0 Z" fill="#0a0af5"/>
<path d="M150.9,424.1 L150.9,438.8 L143.2,438.8 L158.75,453.6 L174.3,438.8 L167.2,438.8 L167.2,424.1 Z" fill="#0a0af5"/>
<path d="M151.7,455.7 L151.7,464.2 L144,464.2 L159.15,474 L174.3,464.2 L166.7,464.2 L166.7,455.7 Z" fill="#0a0af5"/>
<text transform="translate(127.32 371.60)" font-size="23.38" fill="#1414d2" text-anchor="start" >transmission</text>
<text transform="translate(20.18 382.50)" font-size="23.63" fill="#f2b020" text-anchor="start" >reflection</text>
<text transform="translate(198.90 406.90)" font-size="22.40" fill="#000" text-anchor="start" >PZT</text>
<text transform="translate(178.45 442.80)" font-size="23.69" fill="#000" text-anchor="start" >matching layer</text>
<text transform="translate(193.84 480.90)" font-size="23.80" fill="#000" text-anchor="start" >object</text>
<line x1="98.30" y1="386.50" x2="109.71" y2="396.31" stroke="#000" stroke-width="1.1" />
<path d="M115.40,401.20 L106.54,398.46 L111.37,392.85 Z" fill="#000"/>
<line x1="98.30" y1="386.50" x2="112.71" y2="436.20" stroke="#000" stroke-width="1.1" />
<path d="M114.80,443.40 L108.88,436.27 L115.99,434.21 Z" fill="#000"/>
<text transform="translate(335.90 324.70)" font-size="28.50" fill="#000" text-anchor="start" font-weight="bold" >e</text>
<path d="M407.40,522.49 L407.90,520.47 L408.40,518.47 L408.90,516.46 L409.40,514.47 L409.90,512.48 L410.40,510.49 L410.90,508.52 L411.40,506.55 L411.90,504.59 L412.40,502.63 L412.90,500.68 L413.40,498.75 L413.90,496.81 L414.40,494.89 L414.90,492.98 L415.40,491.07 L415.90,489.17 L416.40,487.29 L416.90,485.41 L417.40,483.54 L417.90,481.68 L418.40,479.83 L418.90,477.98 L419.40,476.15 L419.90,474.33 L420.40,472.52 L420.90,470.71 L421.40,468.92 L421.90,467.14 L422.40,465.37 L422.90,463.61 L423.40,461.86 L423.90,460.12 L424.40,458.39 L424.90,456.67 L425.40,454.96 L425.90,453.26 L426.40,451.58 L426.90,449.90 L427.40,448.24 L427.90,446.59 L428.40,444.94 L428.90,443.31 L429.40,441.69 L429.90,440.09 L430.40,438.49 L430.90,436.90 L431.40,435.33 L431.90,433.77 L432.40,432.22 L432.90,430.68 L433.40,429.15 L433.90,427.63 L434.40,426.13 L434.90,424.63 L435.40,423.15 L435.90,421.68 L436.40,420.22 L436.90,418.77 L437.40,417.34 L437.90,415.91 L438.40,414.50 L438.90,413.10 L439.40,411.71 L439.90,410.33 L440.40,408.97 L440.90,407.61 L441.40,406.27 L441.90,404.94 L442.40,403.62 L442.90,402.31 L443.40,401.01 L443.90,399.72 L444.40,398.45 L444.90,397.19 L445.40,395.94 L445.90,394.70 L446.40,393.47 L446.90,392.25 L447.40,391.04 L447.90,389.85 L448.40,388.67 L448.90,387.49 L449.40,386.33 L449.90,385.18 L450.40,384.04 L450.90,382.92 L451.40,381.80 L451.90,380.69 L452.40,379.60 L452.90,378.52 L453.40,377.44 L453.90,376.38 L454.40,375.33 L454.90,374.29 L455.40,373.26 L455.90,372.25 L456.40,371.24 L456.90,370.24 L457.40,369.25 L457.90,368.28 L458.40,367.31 L458.90,366.36 L459.40,365.42 L459.90,364.48 L460.40,363.56 L460.90,362.65 L461.40,361.74 L461.90,360.85 L462.40,359.97 L462.90,359.10 L463.40,358.24 L463.90,357.39 L464.40,356.54 L464.90,355.71 L465.40,354.89 L465.90,354.08 L466.40,353.28 L466.90,352.49 L467.40,351.71 L467.90,350.93 L468.40,350.17 L468.90,349.42 L469.40,348.68 L469.90,347.94 L470.40,347.22 L470.90,346.51 L471.40,345.80 L471.90,345.11 L472.40,344.42 L472.90,343.74 L473.40,343.08 L473.90,342.42 L474.40,341.77 L474.90,341.13 L475.40,340.50 L475.90,339.88 L476.40,339.27 L476.90,338.66 L477.40,338.07 L477.90,337.49 L478.40,336.91 L478.90,336.34 L479.40,335.78 L479.90,335.23 L480.40,334.69 L480.90,334.16 L481.40,333.64 L481.90,333.12 L482.40,332.62 L482.90,332.12 L483.40,331.63 L483.90,331.15 L484.40,330.68 L484.90,330.22 L485.40,329.76 L485.90,329.31 L486.40,328.87 L486.90,328.44 L487.40,328.02 L487.90,327.61 L488.40,327.20 L488.90,326.81 L489.40,326.42 L489.90,326.04 L490.40,325.66 L490.90,325.30 L491.40,324.94 L491.90,324.59 L492.40,324.25 L492.90,323.92 L493.40,323.59 L493.90,323.27 L494.40,322.96 L494.90,322.66 L495.40,322.36 L495.90,322.08 L496.40,321.80 L496.90,321.53 L497.40,321.26 L497.90,321.00 L498.40,320.76 L498.90,320.51 L499.40,320.28 L499.90,320.05 L500.40,319.83 L500.90,319.62 L501.40,319.42 L501.90,319.22 L502.40,319.03 L502.90,318.85 L503.40,318.67 L503.90,318.50 L504.40,318.34 L504.90,318.19 L505.40,318.04 L505.90,317.90 L506.40,317.77 L506.90,317.64 L507.40,317.52 L507.90,317.41 L508.40,317.31 L508.90,317.21 L509.40,317.12 L509.90,317.03 L510.40,316.95 L510.90,316.88 L511.40,316.82 L511.90,316.76 L512.40,316.71 L512.90,316.67 L513.40,316.63 L513.90,316.60 L514.40,316.58 L514.90,316.56 L515.40,316.55 L515.90,316.55 L516.40,316.55 L516.90,316.56 L517.40,316.57 L517.90,316.59 L518.40,316.62 L518.90,316.66 L519.40,316.70 L519.90,316.74 L520.40,316.80 L520.90,316.86 L521.40,316.92 L521.90,317.00 L522.40,317.07 L522.90,317.16 L523.40,317.25 L523.90,317.35 L524.40,317.45 L524.90,317.56 L525.40,317.67 L525.90,317.79 L526.40,317.92 L526.90,318.05 L527.40,318.19 L527.90,318.34 L528.40,318.49 L528.90,318.64 L529.40,318.81 L529.90,318.97 L530.40,319.15 L530.90,319.33 L531.40,319.51 L531.90,319.70 L532.40,319.90 L532.90,320.10 L533.40,320.31 L533.90,320.53 L534.40,320.74 L534.90,320.97 L535.40,321.20 L535.90,321.43 L536.40,321.68 L536.90,321.92 L537.40,322.17 L537.90,322.43 L538.40,322.69 L538.90,322.96 L539.40,323.23 L539.90,323.51 L540.40,323.80 L540.90,324.09 L541.40,324.38 L541.90,324.68 L542.40,324.98 L542.90,325.29 L543.40,325.61 L543.90,325.93 L544.40,326.25 L544.90,326.58 L545.40,326.91 L545.90,327.25 L546.40,327.60 L546.90,327.95 L547.40,328.30 L547.90,328.66 L548.40,329.02 L548.90,329.39 L549.40,329.76 L549.90,330.14 L550.40,330.52 L550.90,330.91 L551.40,331.30 L551.90,331.70 L552.40,332.10 L552.90,332.51 L553.40,332.92 L553.90,333.33 L554.40,333.75 L554.90,334.17 L555.40,334.60 L555.90,335.03 L556.40,335.47 L556.90,335.91 L557.40,336.35 L557.90,336.80 L558.40,337.25 L558.90,337.71 L559.40,338.17 L559.90,338.64 L560.40,339.11 L560.90,339.58 L561.40,340.06 L561.90,340.54 L562.40,341.02 L562.90,341.51 L563.40,342.01 L563.90,342.50 L564.40,343.00 L564.90,343.51 L565.40,344.02 L565.90,344.53 L566.40,345.05 L566.90,345.57 L567.40,346.09 L567.90,346.62 L568.40,347.15 L568.90,347.68 L569.40,348.22 L569.90,348.76 L570.40,349.31 L570.90,349.85 L571.40,350.41 L571.90,350.96 L572.40,351.52 L572.90,352.08 L573.40,352.65 L573.90,353.22 L574.40,353.79 L574.90,354.36 L575.40,354.94 L575.90,355.52 L576.40,356.11 L576.90,356.69 L577.40,357.29 L577.90,357.88 L578.40,358.48 L578.90,359.08 L579.40,359.68 L579.90,360.29 L580.40,360.90 L580.90,361.51 L581.40,362.12 L581.90,362.74 L582.40,363.36 L582.90,363.98 L583.40,364.61 L583.90,365.24 L584.40,365.87 L584.90,366.51 L585.40,367.14 L585.90,367.78 L586.40,368.43 L586.90,369.07 L587.40,369.72 L587.90,370.37 L588.40,371.03 L588.90,371.68 L589.40,372.34 L589.90,373.00 L590.40,373.66 L590.90,374.33 L591.40,375.00 L591.90,375.67 L592.40,376.34 L592.90,377.02 L593.40,377.70 L593.90,378.38 L594.40,379.06 L594.90,379.75 L595.40,380.43 L595.90,381.12 L596.40,381.81 L596.90,382.51 L597.40,383.21 L597.90,383.90 L598.40,384.61 L598.90,385.31 L599.40,386.01 L599.90,386.72 L600.40,387.43 L600.90,388.14 L601.40,388.86 L601.90,389.57 L602.40,390.29 L602.90,391.01 L603.40,391.74 L603.90,392.46 L604.40,393.19 L604.90,393.92 L605.40,394.65 L605.90,395.38 L606.40,396.11 L606.90,396.85 L607.40,397.59 L607.90,398.33 L608.40,399.07 L608.90,399.82 L609.40,400.56 L609.90,401.31 L610.40,402.06 L610.90,402.82 L611.40,403.57 L611.90,404.33 L612.40,405.09 L612.90,405.85 L613.40,406.61 L613.90,407.37 L614.40,408.14 L614.90,408.90 L615.40,409.67 L615.90,410.45 L616.40,411.22 L616.90,411.99 L617.40,412.77 L617.90,413.55 L618.40,414.33 L618.90,415.11 L619.40,415.90 L619.90,416.68 L620.40,417.47 L620.90,418.26 L621.40,419.05 L621.90,419.84 L622.40,420.64 L622.90,421.43 L623.40,422.23 L623.90,423.03 L624.40,423.83 L624.90,424.64 L625.40,425.44 L625.90,426.25 L626.40,427.06 L626.90,427.87 L627.40,428.68 L627.90,429.49 L628.40,430.31 L628.90,431.13 L629.40,431.95 L629.90,432.77 L630.40,433.59 L630.90,434.41 L631.40,435.24 L631.90,436.06 L632.40,436.89 L632.90,437.72 L633.40,438.55 L633.90,439.39 L634.40,440.22 L634.90,441.06 L635.40,441.90 L635.90,442.73 L636.40,443.58 L636.90,444.42 L637.40,445.26 L637.90,446.11 L638.40,446.95 L638.90,447.80 L639.40,448.65 L639.90,449.50 L640.40,450.35 L640.90,451.20 L641.40,452.06 L641.90,452.91 L642.40,453.77 L642.90,454.63 L643.40,455.48 L643.90,456.34 L644.40,457.20 L644.90,458.07 L645.40,458.93 L645.90,459.79 L646.40,460.66 L646.90,461.52 L647.40,462.39 L647.90,463.25 L648.40,464.12 L648.90,464.99 L649.40,465.86 L649.90,466.73 L650.40,467.60 L650.90,468.47 L651.40,469.34 L651.90,470.21 L652.40,471.08 L652.90,471.95 L653.40,472.82 L653.90,473.69 L654.40,474.56 L654.90,475.43 L655.40,476.30 L655.90,477.17 L656.40,478.04 L656.90,478.91 L657.40,479.77 L657.90,480.64 L658.40,481.51 L658.90,482.37 L659.40,483.24 L659.90,484.10 L660.40,484.96 L660.90,485.82 L661.40,486.68 L661.90,487.53 L662.40,488.39 L662.90,489.24 L663.40,490.09 L663.90,490.94 L664.40,491.79 L664.90,492.63 L665.40,493.47 L665.90,494.31 L666.40,495.14 L666.90,495.97 L667.40,496.80 L667.90,497.62 L668.40,498.44 L668.90,499.26" fill="none" stroke="#1e28cc" stroke-width="1.6"/>
<line x1="407.40" y1="316.50" x2="669.30" y2="316.50" stroke="#222" stroke-width="1.1" />
<line x1="407.40" y1="526.50" x2="669.30" y2="526.50" stroke="#555" stroke-width="1.1" />
<line x1="407.40" y1="316.50" x2="407.40" y2="526.50" stroke="#888" stroke-width="1.2" />
<line x1="669.30" y1="316.50" x2="669.30" y2="526.50" stroke="#888" stroke-width="1.2" />
<line x1="403.90" y1="526.50" x2="407.40" y2="526.50" stroke="#555" stroke-width="1" />
<line x1="405.40" y1="500.25" x2="407.40" y2="500.25" stroke="#555" stroke-width="1" />
<line x1="403.90" y1="474.00" x2="407.40" y2="474.00" stroke="#555" stroke-width="1" />
<line x1="405.40" y1="447.75" x2="407.40" y2="447.75" stroke="#555" stroke-width="1" />
<line x1="403.90" y1="421.50" x2="407.40" y2="421.50" stroke="#555" stroke-width="1" />
<line x1="405.40" y1="395.25" x2="407.40" y2="395.25" stroke="#555" stroke-width="1" />
<line x1="403.90" y1="369.00" x2="407.40" y2="369.00" stroke="#555" stroke-width="1" />
<line x1="405.40" y1="342.75" x2="407.40" y2="342.75" stroke="#555" stroke-width="1" />
<line x1="403.90" y1="316.50" x2="407.40" y2="316.50" stroke="#555" stroke-width="1" />
<line x1="666.70" y1="337.50" x2="669.30" y2="337.50" stroke="#555" stroke-width="1" />
<line x1="666.70" y1="358.58" x2="669.30" y2="358.58" stroke="#555" stroke-width="1" />
<line x1="666.70" y1="379.66" x2="669.30" y2="379.66" stroke="#555" stroke-width="1" />
<line x1="666.70" y1="400.74" x2="669.30" y2="400.74" stroke="#555" stroke-width="1" />
<line x1="666.70" y1="421.82" x2="669.30" y2="421.82" stroke="#555" stroke-width="1" />
<line x1="666.70" y1="442.90" x2="669.30" y2="442.90" stroke="#555" stroke-width="1" />
<line x1="666.70" y1="463.98" x2="669.30" y2="463.98" stroke="#555" stroke-width="1" />
<line x1="666.70" y1="485.06" x2="669.30" y2="485.06" stroke="#555" stroke-width="1" />
<line x1="666.70" y1="506.14" x2="669.30" y2="506.14" stroke="#555" stroke-width="1" />
<text transform="translate(401.10 531.10)" font-size="15.90" fill="#000" text-anchor="end" >0.84</text>
<text transform="translate(401.10 478.60)" font-size="15.90" fill="#000" text-anchor="end" >0.88</text>
<text transform="translate(401.10 426.10)" font-size="15.90" fill="#000" text-anchor="end" >0.92</text>
<text transform="translate(401.10 373.60)" font-size="15.90" fill="#000" text-anchor="end" >0.96</text>
<text transform="translate(401.10 321.10)" font-size="15.90" fill="#000" text-anchor="end" >1.00</text>
<line x1="407.40" y1="526.50" x2="407.40" y2="530.00" stroke="#555" stroke-width="1" />
<line x1="433.59" y1="526.50" x2="433.59" y2="528.50" stroke="#555" stroke-width="1" />
<line x1="459.78" y1="526.50" x2="459.78" y2="530.00" stroke="#555" stroke-width="1" />
<line x1="485.97" y1="526.50" x2="485.97" y2="528.50" stroke="#555" stroke-width="1" />
<line x1="512.16" y1="526.50" x2="512.16" y2="530.00" stroke="#555" stroke-width="1" />
<line x1="538.35" y1="526.50" x2="538.35" y2="528.50" stroke="#555" stroke-width="1" />
<line x1="564.54" y1="526.50" x2="564.54" y2="530.00" stroke="#555" stroke-width="1" />
<line x1="590.73" y1="526.50" x2="590.73" y2="528.50" stroke="#555" stroke-width="1" />
<line x1="616.92" y1="526.50" x2="616.92" y2="530.00" stroke="#555" stroke-width="1" />
<line x1="643.11" y1="526.50" x2="643.11" y2="528.50" stroke="#555" stroke-width="1" />
<line x1="669.30" y1="526.50" x2="669.30" y2="530.00" stroke="#555" stroke-width="1" />
<text transform="translate(407.40 544.40)" font-size="15.80" fill="#000" text-anchor="middle" >20</text>
<text transform="translate(459.78 544.40)" font-size="15.80" fill="#000" text-anchor="middle" >25</text>
<text transform="translate(512.16 544.40)" font-size="15.80" fill="#000" text-anchor="middle" >30</text>
<text transform="translate(564.54 544.40)" font-size="15.80" fill="#000" text-anchor="middle" >35</text>
<text transform="translate(616.92 544.40)" font-size="15.80" fill="#000" text-anchor="middle" >40</text>
<text transform="translate(669.30 544.40)" font-size="15.80" fill="#000" text-anchor="middle" >45</text>
<line x1="444.50" y1="316.50" x2="444.50" y2="317.80" stroke="#333" stroke-width="1" />
<line x1="481.40" y1="316.50" x2="481.40" y2="318.50" stroke="#333" stroke-width="1" />
<line x1="518.60" y1="316.50" x2="518.60" y2="317.80" stroke="#333" stroke-width="1" />
<line x1="556.20" y1="316.50" x2="556.20" y2="318.50" stroke="#333" stroke-width="1" />
<line x1="593.80" y1="316.50" x2="593.80" y2="317.80" stroke="#333" stroke-width="1" />
<line x1="631.40" y1="316.50" x2="631.40" y2="318.50" stroke="#333" stroke-width="1" />
<text transform="translate(439.49 562.90)" font-size="16.57" fill="#000" text-anchor="start" >Acoustic impedance (MRayl)</text>
<text transform="translate(367.20 467.74) rotate(-90)" font-size="16.02" fill="#000" text-anchor="start" >Transmissivity</text>
<circle cx="635.3" cy="441.8" r="2.6" fill="#1a30dd"/>
<text transform="translate(492.22 416.40)" font-size="23.07" fill="#000" text-anchor="start" >this work</text>
<line x1="584.10" y1="418.20" x2="620.00" y2="436.30" stroke="#000" stroke-width="1.1" />
<path d="M615.5,442.5 L622.1,430.4 L631,442.2 Z" fill="#000"/>
<text transform="translate(701.30 328.50)" font-size="28.50" fill="#000" text-anchor="start" font-weight="bold" >f</text>
<path d="M774.30,522.02 L774.80,522.03 L775.30,521.99 L775.80,521.90 L776.30,521.75 L776.80,521.54 L777.30,521.28 L777.80,520.96 L778.30,520.59 L778.80,520.16 L779.30,519.67 L779.80,519.13 L780.30,518.54 L780.80,517.89 L781.30,517.18 L781.80,516.42 L782.30,515.61 L782.80,514.75 L783.30,513.83 L783.80,512.86 L784.30,511.84 L784.80,510.76 L785.30,509.64 L785.80,508.46 L786.30,507.23 L786.80,505.95 L787.30,504.63 L787.80,503.25 L788.30,501.83 L788.80,500.36 L789.30,498.84 L789.80,497.27 L790.30,495.66 L790.80,494.01 L791.30,492.31 L791.80,490.57 L792.30,488.78 L792.80,486.96 L793.30,485.09 L793.80,483.19 L794.30,481.24 L794.80,479.26 L795.30,477.24 L795.80,475.19 L796.30,473.10 L796.80,470.97 L797.30,468.82 L797.80,466.63 L798.30,464.41 L798.80,462.16 L799.30,459.89 L799.80,457.59 L800.30,455.26 L800.80,452.91 L801.30,450.54 L801.80,448.14 L802.30,445.73 L802.80,443.29 L803.30,440.84 L803.80,438.37 L804.30,435.89 L804.80,433.40 L805.30,430.90 L805.80,428.38 L806.30,425.86 L806.80,423.33 L807.30,420.80 L807.80,418.26 L808.30,415.73 L808.80,413.19 L809.30,410.65 L809.80,408.12 L810.30,405.60 L810.80,403.08 L811.30,400.57 L811.80,398.07 L812.30,395.58 L812.80,393.11 L813.30,390.65 L813.80,388.22 L814.30,385.80 L814.80,383.40 L815.30,381.03 L815.80,378.68 L816.30,376.36 L816.80,374.07 L817.30,371.81 L817.80,369.58 L818.30,367.38 L818.80,365.23 L819.30,363.11 L819.80,361.03 L820.30,358.99 L820.80,356.99 L821.30,355.04 L821.80,353.13 L822.30,351.27 L822.80,349.46 L823.30,347.71 L823.80,346.00 L824.30,344.35 L824.80,342.75 L825.30,341.22 L825.80,339.74 L826.30,338.31 L826.80,336.95 L827.30,335.66 L827.80,334.42 L828.30,333.25 L828.80,332.15 L829.30,331.11 L829.80,330.14 L830.30,329.23 L830.80,328.40 L831.30,327.64 L831.80,326.94 L832.30,326.32 L832.80,325.77 L833.30,325.29 L833.80,324.89 L834.30,324.55 L834.80,324.30 L835.30,324.11 L835.80,324.00 L836.30,323.96 L836.80,324.00 L837.30,324.11 L837.80,324.30 L838.30,324.55 L838.80,324.89 L839.30,325.29 L839.80,325.77 L840.30,326.32 L840.80,326.94 L841.30,327.64 L841.80,328.40 L842.30,329.23 L842.80,330.14 L843.30,331.11 L843.80,332.15 L844.30,333.25 L844.80,334.42 L845.30,335.66 L845.80,336.95 L846.30,338.31 L846.80,339.74 L847.30,341.22 L847.80,342.75 L848.30,344.35 L848.80,346.00 L849.30,347.71 L849.80,349.46 L850.30,351.27 L850.80,353.13 L851.30,355.04 L851.80,356.99 L852.30,358.99 L852.80,361.03 L853.30,363.11 L853.80,365.23 L854.30,367.38 L854.80,369.58 L855.30,371.81 L855.80,374.07 L856.30,376.36 L856.80,378.68 L857.30,381.03 L857.80,383.40 L858.30,385.80 L858.80,388.22 L859.30,390.65 L859.80,393.11 L860.30,395.58 L860.80,398.07 L861.30,400.57 L861.80,403.08 L862.30,405.60 L862.80,408.12 L863.30,410.65 L863.80,413.19 L864.30,415.73 L864.80,418.26 L865.30,420.80 L865.80,423.33 L866.30,425.86 L866.80,428.38 L867.30,430.90 L867.80,433.40 L868.30,435.89 L868.80,438.37 L869.30,440.84 L869.80,443.29 L870.30,445.73 L870.80,448.14 L871.30,450.54 L871.80,452.91 L872.30,455.26 L872.80,457.59 L873.30,459.89 L873.80,462.16 L874.30,464.41 L874.80,466.63 L875.30,468.82 L875.80,470.97 L876.30,473.10 L876.80,475.19 L877.30,477.24 L877.80,479.26 L878.30,481.24 L878.80,483.19 L879.30,485.09 L879.80,486.96 L880.30,488.78 L880.80,490.57 L881.30,492.31 L881.80,494.01 L882.30,495.66 L882.80,497.27 L883.30,498.84 L883.80,500.36 L884.30,501.83 L884.80,503.25 L885.30,504.63 L885.80,505.95 L886.30,507.23 L886.80,508.46 L887.30,509.64 L887.80,510.76 L888.30,511.84 L888.80,512.86 L889.30,513.83 L889.80,514.75 L890.30,515.61 L890.80,516.42 L891.30,517.18 L891.80,517.89 L892.30,518.54 L892.80,519.13 L893.30,519.67 L893.80,520.16 L894.30,520.59 L894.80,520.96 L895.30,521.28 L895.80,521.54 L896.30,521.75 L896.80,521.90 L897.30,521.99 L897.80,522.03 L898.30,522.02 L898.80,521.94 L899.30,521.82 L899.80,521.63 L900.30,521.39 L900.80,521.09 L901.30,520.74 L901.80,520.33 L902.30,519.87 L902.80,519.35 L903.30,518.78 L903.80,518.15 L904.30,517.47 L904.80,516.73 L905.30,515.94 L905.80,515.10 L906.30,514.20 L906.80,513.25 L907.30,512.25 L907.80,511.20 L908.30,510.09 L908.80,508.93 L909.30,507.73 L909.80,506.47 L910.30,505.16 L910.80,503.81 L911.30,502.40 L911.80,500.95 L912.30,499.45 L912.80,497.90 L913.30,496.31 L913.80,494.68 L914.30,492.99 L914.80,491.27 L915.30,489.50 L915.80,487.69 L916.30,485.84 L916.80,483.95 L917.30,482.03 L917.80,480.06 L918.30,478.05 L918.80,476.01 L919.30,473.94 L919.80,471.83 L920.30,469.68 L920.80,467.51 L921.30,465.30 L921.80,463.07 L922.30,460.80 L922.80,458.51 L923.30,456.19 L923.80,453.85 L924.30,451.49 L924.80,449.10 L925.30,446.69 L925.80,444.27 L926.30,441.82 L926.80,439.36 L927.30,436.89 L927.80,434.40 L928.30,431.90 L928.80,429.39 L929.30,426.87 L929.80,424.34 L930.30,421.81 L930.80,419.28 L931.30,416.74 L931.80,414.20 L932.30,411.67 L932.80,409.13 L933.30,406.61 L933.80,404.08 L934.30,401.57 L934.80,399.07 L935.30,396.57 L935.80,394.10 L936.30,391.63 L936.80,389.19 L937.30,386.76 L937.80,384.36 L938.30,381.98 L938.80,379.62 L939.30,377.29 L939.80,374.98 L940.30,372.71 L940.80,370.47 L941.30,368.26 L941.80,366.09 L942.30,363.95 L942.80,361.85 L943.30,359.80 L943.80,357.78 L944.30,355.81 L944.80,353.89 L945.30,352.01 L945.80,350.18 L946.30,348.40 L946.80,346.68 L947.30,345.00 L947.80,343.39 L948.30,341.82 L948.80,340.32 L949.30,338.88 L949.80,337.49 L950.30,336.17 L950.80,334.91 L951.30,333.71 L951.80,332.58 L952.30,331.52 L952.80,330.52 L953.30,329.59 L953.80,328.73 L954.30,327.93 L954.80,327.21 L955.30,326.56 L955.80,325.98 L956.30,325.47 L956.80,325.04 L957.30,324.68 L957.80,324.39 L958.30,324.18 L958.80,324.04 L959.30,323.97 L959.80,323.98 L960.30,324.06 L960.80,324.21 L961.30,324.44 L961.80,324.75 L962.30,325.12 L962.80,325.57 L963.30,326.09 L963.80,326.69 L964.30,327.35 L964.80,328.09 L965.30,328.89 L965.80,329.77 L966.30,330.71 L966.80,331.72 L967.30,332.80 L967.80,333.95 L968.30,335.16 L968.80,336.43 L969.30,337.76 L969.80,339.16 L970.30,340.62 L970.80,342.13 L971.30,343.71 L971.80,345.33 L972.30,347.02 L972.80,348.75 L973.30,350.54 L973.80,352.38 L974.30,354.27 L974.80,356.20 L975.30,358.18 L975.80,360.20 L976.30,362.27 L976.80,364.37 L977.30,366.52 L977.80,368.70 L978.30,370.91 L978.80,373.16 L979.30,375.44 L979.80,377.75 L980.30,380.09 L980.80,382.45 L981.30,384.84 L981.80,387.25 L982.30,389.68 L982.80,392.13 L983.30,394.59 L983.80,397.07 L984.30,399.57 L984.80,402.07 L985.30,404.59 L985.80,407.11 L986.30,409.64 L986.80,412.17 L987.30,414.71 L987.80,417.25 L988.30,419.78 L988.80,422.32 L989.30,424.85 L989.80,427.37 L990.30,429.89 L990.80,432.40 L991.30,434.90 L991.80,437.38 L992.30,439.86 L992.80,442.31 L993.30,444.75 L993.80,447.18 L994.30,449.58 L994.80,451.96 L995.30,454.32 L995.80,456.66 L996.30,458.97 L996.80,461.26 L997.30,463.52 L997.80,465.75 L998.30,467.95 L998.80,470.11 L999.30,472.25 L999.80,474.35 L1000.30,476.42 L1000.80,478.46 L1001.30,480.45 L1001.80,482.41 L1002.30,484.34 L1002.80,486.22 L1003.30,488.06 L1003.80,489.86 L1004.30,491.62 L1004.80,493.33 L1005.30,495.01 L1005.80,496.63 L1006.30,498.22 L1006.80,499.75 L1007.30,501.24 L1007.80,502.69 L1008.30,504.08 L1008.80,505.43 L1009.30,506.73 L1009.80,507.97 L1010.30,509.17 L1010.80,510.32 L1011.30,511.41 L1011.80,512.46 L1012.30,513.45 L1012.80,514.39 L1013.30,515.27 L1013.80,516.11 L1014.30,516.89 L1014.80,517.61 L1015.30,518.28 L1015.80,518.90 L1016.30,519.46 L1016.80,519.97 L1017.30,520.42 L1017.80,520.82 L1018.30,521.16 L1018.80,521.44 L1019.30,521.67 L1019.80,521.85 L1020.30,521.96 L1020.80,522.02 L1021.30,522.03 L1021.80,521.98 L1022.30,521.87 L1022.80,521.71 L1023.30,521.49 L1023.80,521.22 L1024.30,520.89 L1024.80,520.50 L1025.30,520.06 L1025.80,519.57 L1026.30,519.02 L1026.80,518.41 L1027.30,517.75 L1027.80,517.04 L1028.30,516.27 L1028.80,515.44 L1029.30,514.57 L1029.80,513.64 L1030.30,512.66 L1030.80,511.63 L1031.30,510.54 L1031.80,509.40 L1032.30,508.22 L1032.80,506.98 L1033.30,505.69 L1033.80,504.35 L1034.30,502.97 L1034.80,501.54 L1035.30,500.06 L1035.80,498.53 L1036.30,496.95" fill="none" stroke="#1e28b8" stroke-width="1.6"/>
<line x1="774.30" y1="315.50" x2="1036.60" y2="315.50" stroke="#222" stroke-width="1.1" />
<line x1="774.30" y1="526.50" x2="1036.60" y2="526.50" stroke="#444" stroke-width="1.1" />
<line x1="774.30" y1="315.50" x2="774.30" y2="526.50" stroke="#333" stroke-width="1.1" />
<line x1="1036.60" y1="315.50" x2="1036.60" y2="526.50" stroke="#666" stroke-width="1.1" />
<line x1="771.10" y1="526.59" x2="774.30" y2="526.59" stroke="#333" stroke-width="1" />
<line x1="772.30" y1="495.17" x2="774.30" y2="495.17" stroke="#333" stroke-width="1" />
<line x1="771.10" y1="463.76" x2="774.30" y2="463.76" stroke="#333" stroke-width="1" />
<line x1="772.30" y1="432.35" x2="774.30" y2="432.35" stroke="#333" stroke-width="1" />
<line x1="771.10" y1="400.93" x2="774.30" y2="400.93" stroke="#333" stroke-width="1" />
<line x1="772.30" y1="369.52" x2="774.30" y2="369.52" stroke="#333" stroke-width="1" />
<line x1="771.10" y1="338.10" x2="774.30" y2="338.10" stroke="#333" stroke-width="1" />
<line x1="1034.00" y1="335.60" x2="1036.60" y2="335.60" stroke="#444" stroke-width="1" />
<line x1="1034.00" y1="356.73" x2="1036.60" y2="356.73" stroke="#444" stroke-width="1" />
<line x1="1034.00" y1="377.86" x2="1036.60" y2="377.86" stroke="#444" stroke-width="1" />
<line x1="1034.00" y1="398.99" x2="1036.60" y2="398.99" stroke="#444" stroke-width="1" />
<line x1="1034.00" y1="420.12" x2="1036.60" y2="420.12" stroke="#444" stroke-width="1" />
<line x1="1034.00" y1="441.25" x2="1036.60" y2="441.25" stroke="#444" stroke-width="1" />
<line x1="1034.00" y1="462.38" x2="1036.60" y2="462.38" stroke="#444" stroke-width="1" />
<line x1="1034.00" y1="483.51" x2="1036.60" y2="483.51" stroke="#444" stroke-width="1" />
<line x1="1034.00" y1="504.64" x2="1036.60" y2="504.64" stroke="#444" stroke-width="1" />
<text transform="translate(768.40 531.19)" font-size="15.90" fill="#000" text-anchor="end" >0.84</text>
<text transform="translate(768.40 468.36)" font-size="15.90" fill="#000" text-anchor="end" >0.88</text>
<text transform="translate(768.40 405.53)" font-size="15.90" fill="#000" text-anchor="end" >0.92</text>
<text transform="translate(768.40 342.70)" font-size="15.90" fill="#000" text-anchor="end" >0.96</text>
<line x1="774.30" y1="526.50" x2="774.30" y2="530.00" stroke="#333" stroke-width="1" />
<line x1="811.77" y1="526.50" x2="811.77" y2="528.50" stroke="#333" stroke-width="1" />
<line x1="849.24" y1="526.50" x2="849.24" y2="530.00" stroke="#333" stroke-width="1" />
<line x1="886.71" y1="526.50" x2="886.71" y2="528.50" stroke="#333" stroke-width="1" />
<line x1="924.19" y1="526.50" x2="924.19" y2="530.00" stroke="#333" stroke-width="1" />
<line x1="961.66" y1="526.50" x2="961.66" y2="528.50" stroke="#333" stroke-width="1" />
<line x1="999.13" y1="526.50" x2="999.13" y2="530.00" stroke="#333" stroke-width="1" />
<line x1="1036.60" y1="526.50" x2="1036.60" y2="528.50" stroke="#333" stroke-width="1" />
<line x1="812.40" y1="315.50" x2="812.40" y2="317.30" stroke="#444" stroke-width="1" />
<line x1="849.40" y1="315.50" x2="849.40" y2="317.30" stroke="#444" stroke-width="1" />
<line x1="887.80" y1="315.50" x2="887.80" y2="317.30" stroke="#444" stroke-width="1" />
<line x1="925.00" y1="315.50" x2="925.00" y2="317.30" stroke="#444" stroke-width="1" />
<line x1="962.50" y1="315.50" x2="962.50" y2="317.30" stroke="#444" stroke-width="1" />
<line x1="1000.00" y1="315.50" x2="1000.00" y2="317.30" stroke="#444" stroke-width="1" />
<text transform="translate(774.30 544.20)" font-size="16.00" fill="#000" text-anchor="middle" >0.0</text>
<text transform="translate(849.24 544.20)" font-size="16.00" fill="#000" text-anchor="middle" >0.5</text>
<text transform="translate(924.19 544.20)" font-size="16.00" fill="#000" text-anchor="middle" >1.0</text>
<text transform="translate(999.13 544.20)" font-size="16.00" fill="#000" text-anchor="middle" >1.5</text>
<text transform="translate(853.36 562.60)" font-size="16.27" fill="#000" text-anchor="start" >Thickness (mm)</text>
<text transform="translate(735.20 469.35) rotate(-90)" font-size="16.34" fill="#000" text-anchor="start" >Transmissivity</text>
<circle cx="835.9" cy="324.5" r="2.5" fill="#1a30dd"/>
<text transform="translate(864.32 367.40)" font-size="23.05" fill="#000" text-anchor="start" >this work</text>
<line x1="869.80" y1="347.90" x2="846.00" y2="333.50" stroke="#000" stroke-width="1.1" />
<path d="M838.5,326.2 L851.9,328.7 L844.9,338.6 Z" fill="#000"/>
</svg></body></html>
